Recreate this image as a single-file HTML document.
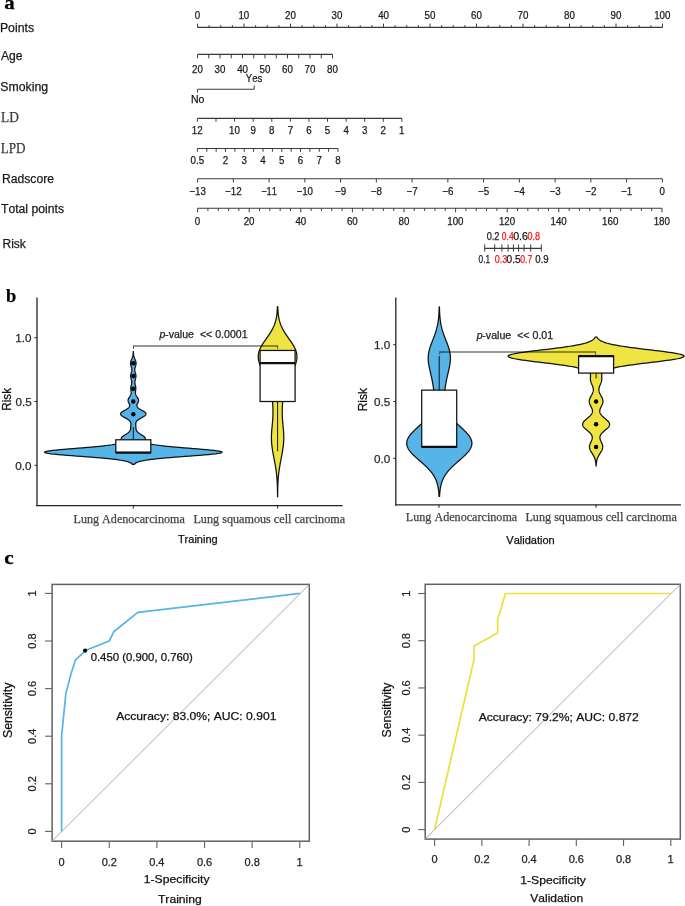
<!DOCTYPE html>
<html><head><meta charset="utf-8"><style>
html,body{margin:0;padding:0;background:#fff;}
svg{display:block;will-change:transform;}
text{font-kerning:none;}
</style></head><body>
<svg width="685" height="906" viewBox="0 0 685 906">
<rect width="685" height="906" fill="#fff"/>
<text x="4.27" y="9.30" font-family="Liberation Serif" font-size="19.50" fill="#000" stroke="#000" stroke-width="0.25" font-weight="bold" textLength="10.44" lengthAdjust="spacingAndGlyphs" xml:space="preserve">a</text>
<text x="-0.08" y="31.80" font-family="Liberation Sans" font-size="12.00" fill="#1a1a1a" stroke="#1a1a1a" stroke-width="0.25" textLength="34.10" lengthAdjust="spacingAndGlyphs" xml:space="preserve">Points</text>
<text x="0.90" y="60.10" font-family="Liberation Sans" font-size="12.00" fill="#1a1a1a" stroke="#1a1a1a" stroke-width="0.25" textLength="21.64" lengthAdjust="spacingAndGlyphs" xml:space="preserve">Age</text>
<text x="0.35" y="90.80" font-family="Liberation Sans" font-size="12.00" fill="#1a1a1a" stroke="#1a1a1a" stroke-width="0.25" textLength="47.76" lengthAdjust="spacingAndGlyphs" xml:space="preserve">Smoking</text>
<text x="1.00" y="121.60" font-family="Liberation Serif" font-size="14.20" fill="#3c3c3c" stroke="#3c3c3c" stroke-width="0.25" textLength="17.81" lengthAdjust="spacingAndGlyphs" xml:space="preserve">LD</text>
<text x="0.81" y="153.20" font-family="Liberation Serif" font-size="14.20" fill="#3c3c3c" stroke="#3c3c3c" stroke-width="0.25" textLength="24.81" lengthAdjust="spacingAndGlyphs" xml:space="preserve">LPD</text>
<text x="1.93" y="183.40" font-family="Liberation Sans" font-size="12.00" fill="#1a1a1a" stroke="#1a1a1a" stroke-width="0.25" textLength="52.12" lengthAdjust="spacingAndGlyphs" xml:space="preserve">Radscore</text>
<text x="0.95" y="213.10" font-family="Liberation Sans" font-size="12.00" fill="#1a1a1a" stroke="#1a1a1a" stroke-width="0.25" textLength="63.07" lengthAdjust="spacingAndGlyphs" xml:space="preserve">Total points</text>
<text x="2.54" y="248.20" font-family="Liberation Sans" font-size="12.00" fill="#1a1a1a" stroke="#1a1a1a" stroke-width="0.25" textLength="23.35" lengthAdjust="spacingAndGlyphs" xml:space="preserve">Risk</text>
<line x1="197.50" y1="27.40" x2="662.50" y2="27.40" stroke="#3a3a3a" stroke-width="1.1"/>
<line x1="197.50" y1="27.40" x2="197.50" y2="23.60" stroke="#3a3a3a" stroke-width="1.0"/>
<text x="194.77" y="18.90" font-family="Liberation Sans" font-size="10.60" fill="#1a1a1a" stroke="#1a1a1a" stroke-width="0.25" textLength="5.42" lengthAdjust="spacingAndGlyphs" xml:space="preserve">0</text>
<line x1="209.12" y1="27.40" x2="209.12" y2="25.20" stroke="#3a3a3a" stroke-width="1.0"/>
<line x1="220.75" y1="27.40" x2="220.75" y2="25.20" stroke="#3a3a3a" stroke-width="1.0"/>
<line x1="232.38" y1="27.40" x2="232.38" y2="25.20" stroke="#3a3a3a" stroke-width="1.0"/>
<line x1="244.00" y1="27.40" x2="244.00" y2="23.60" stroke="#3a3a3a" stroke-width="1.0"/>
<text x="238.39" y="18.90" font-family="Liberation Sans" font-size="10.60" fill="#1a1a1a" stroke="#1a1a1a" stroke-width="0.25" textLength="10.85" lengthAdjust="spacingAndGlyphs" xml:space="preserve">10</text>
<line x1="255.62" y1="27.40" x2="255.62" y2="25.20" stroke="#3a3a3a" stroke-width="1.0"/>
<line x1="267.25" y1="27.40" x2="267.25" y2="25.20" stroke="#3a3a3a" stroke-width="1.0"/>
<line x1="278.88" y1="27.40" x2="278.88" y2="25.20" stroke="#3a3a3a" stroke-width="1.0"/>
<line x1="290.50" y1="27.40" x2="290.50" y2="23.60" stroke="#3a3a3a" stroke-width="1.0"/>
<text x="285.01" y="18.90" font-family="Liberation Sans" font-size="10.60" fill="#1a1a1a" stroke="#1a1a1a" stroke-width="0.25" textLength="10.85" lengthAdjust="spacingAndGlyphs" xml:space="preserve">20</text>
<line x1="302.12" y1="27.40" x2="302.12" y2="25.20" stroke="#3a3a3a" stroke-width="1.0"/>
<line x1="313.75" y1="27.40" x2="313.75" y2="25.20" stroke="#3a3a3a" stroke-width="1.0"/>
<line x1="325.38" y1="27.40" x2="325.38" y2="25.20" stroke="#3a3a3a" stroke-width="1.0"/>
<line x1="337.00" y1="27.40" x2="337.00" y2="23.60" stroke="#3a3a3a" stroke-width="1.0"/>
<text x="331.56" y="18.90" font-family="Liberation Sans" font-size="10.60" fill="#1a1a1a" stroke="#1a1a1a" stroke-width="0.25" textLength="10.85" lengthAdjust="spacingAndGlyphs" xml:space="preserve">30</text>
<line x1="348.62" y1="27.40" x2="348.62" y2="25.20" stroke="#3a3a3a" stroke-width="1.0"/>
<line x1="360.25" y1="27.40" x2="360.25" y2="25.20" stroke="#3a3a3a" stroke-width="1.0"/>
<line x1="371.88" y1="27.40" x2="371.88" y2="25.20" stroke="#3a3a3a" stroke-width="1.0"/>
<line x1="383.50" y1="27.40" x2="383.50" y2="23.60" stroke="#3a3a3a" stroke-width="1.0"/>
<text x="378.16" y="18.90" font-family="Liberation Sans" font-size="10.60" fill="#1a1a1a" stroke="#1a1a1a" stroke-width="0.25" textLength="10.85" lengthAdjust="spacingAndGlyphs" xml:space="preserve">40</text>
<line x1="395.12" y1="27.40" x2="395.12" y2="25.20" stroke="#3a3a3a" stroke-width="1.0"/>
<line x1="406.75" y1="27.40" x2="406.75" y2="25.20" stroke="#3a3a3a" stroke-width="1.0"/>
<line x1="418.38" y1="27.40" x2="418.38" y2="25.20" stroke="#3a3a3a" stroke-width="1.0"/>
<line x1="430.00" y1="27.40" x2="430.00" y2="23.60" stroke="#3a3a3a" stroke-width="1.0"/>
<text x="424.56" y="18.90" font-family="Liberation Sans" font-size="10.60" fill="#1a1a1a" stroke="#1a1a1a" stroke-width="0.25" textLength="10.85" lengthAdjust="spacingAndGlyphs" xml:space="preserve">50</text>
<line x1="441.62" y1="27.40" x2="441.62" y2="25.20" stroke="#3a3a3a" stroke-width="1.0"/>
<line x1="453.25" y1="27.40" x2="453.25" y2="25.20" stroke="#3a3a3a" stroke-width="1.0"/>
<line x1="464.88" y1="27.40" x2="464.88" y2="25.20" stroke="#3a3a3a" stroke-width="1.0"/>
<line x1="476.50" y1="27.40" x2="476.50" y2="23.60" stroke="#3a3a3a" stroke-width="1.0"/>
<text x="471.01" y="18.90" font-family="Liberation Sans" font-size="10.60" fill="#1a1a1a" stroke="#1a1a1a" stroke-width="0.25" textLength="10.85" lengthAdjust="spacingAndGlyphs" xml:space="preserve">60</text>
<line x1="488.12" y1="27.40" x2="488.12" y2="25.20" stroke="#3a3a3a" stroke-width="1.0"/>
<line x1="499.75" y1="27.40" x2="499.75" y2="25.20" stroke="#3a3a3a" stroke-width="1.0"/>
<line x1="511.38" y1="27.40" x2="511.38" y2="25.20" stroke="#3a3a3a" stroke-width="1.0"/>
<line x1="523.00" y1="27.40" x2="523.00" y2="23.60" stroke="#3a3a3a" stroke-width="1.0"/>
<text x="517.51" y="18.90" font-family="Liberation Sans" font-size="10.60" fill="#1a1a1a" stroke="#1a1a1a" stroke-width="0.25" textLength="10.85" lengthAdjust="spacingAndGlyphs" xml:space="preserve">70</text>
<line x1="534.62" y1="27.40" x2="534.62" y2="25.20" stroke="#3a3a3a" stroke-width="1.0"/>
<line x1="546.25" y1="27.40" x2="546.25" y2="25.20" stroke="#3a3a3a" stroke-width="1.0"/>
<line x1="557.88" y1="27.40" x2="557.88" y2="25.20" stroke="#3a3a3a" stroke-width="1.0"/>
<line x1="569.50" y1="27.40" x2="569.50" y2="23.60" stroke="#3a3a3a" stroke-width="1.0"/>
<text x="564.04" y="18.90" font-family="Liberation Sans" font-size="10.60" fill="#1a1a1a" stroke="#1a1a1a" stroke-width="0.25" textLength="10.85" lengthAdjust="spacingAndGlyphs" xml:space="preserve">80</text>
<line x1="581.12" y1="27.40" x2="581.12" y2="25.20" stroke="#3a3a3a" stroke-width="1.0"/>
<line x1="592.75" y1="27.40" x2="592.75" y2="25.20" stroke="#3a3a3a" stroke-width="1.0"/>
<line x1="604.38" y1="27.40" x2="604.38" y2="25.20" stroke="#3a3a3a" stroke-width="1.0"/>
<line x1="616.00" y1="27.40" x2="616.00" y2="23.60" stroke="#3a3a3a" stroke-width="1.0"/>
<text x="610.54" y="18.90" font-family="Liberation Sans" font-size="10.60" fill="#1a1a1a" stroke="#1a1a1a" stroke-width="0.25" textLength="10.85" lengthAdjust="spacingAndGlyphs" xml:space="preserve">90</text>
<line x1="627.62" y1="27.40" x2="627.62" y2="25.20" stroke="#3a3a3a" stroke-width="1.0"/>
<line x1="639.25" y1="27.40" x2="639.25" y2="25.20" stroke="#3a3a3a" stroke-width="1.0"/>
<line x1="650.88" y1="27.40" x2="650.88" y2="25.20" stroke="#3a3a3a" stroke-width="1.0"/>
<line x1="662.50" y1="27.40" x2="662.50" y2="23.60" stroke="#3a3a3a" stroke-width="1.0"/>
<text x="654.19" y="18.90" font-family="Liberation Sans" font-size="10.60" fill="#1a1a1a" stroke="#1a1a1a" stroke-width="0.25" textLength="16.27" lengthAdjust="spacingAndGlyphs" xml:space="preserve">100</text>
<line x1="197.50" y1="54.40" x2="332.50" y2="54.40" stroke="#3a3a3a" stroke-width="1.1"/>
<line x1="197.50" y1="54.40" x2="197.50" y2="58.40" stroke="#3a3a3a" stroke-width="1.0"/>
<text x="192.01" y="72.80" font-family="Liberation Sans" font-size="10.60" fill="#1a1a1a" stroke="#1a1a1a" stroke-width="0.25" textLength="10.85" lengthAdjust="spacingAndGlyphs" xml:space="preserve">20</text>
<line x1="208.75" y1="54.40" x2="208.75" y2="58.40" stroke="#3a3a3a" stroke-width="1.0"/>
<line x1="220.00" y1="54.40" x2="220.00" y2="58.40" stroke="#3a3a3a" stroke-width="1.0"/>
<text x="214.56" y="72.80" font-family="Liberation Sans" font-size="10.60" fill="#1a1a1a" stroke="#1a1a1a" stroke-width="0.25" textLength="10.85" lengthAdjust="spacingAndGlyphs" xml:space="preserve">30</text>
<line x1="231.25" y1="54.40" x2="231.25" y2="58.40" stroke="#3a3a3a" stroke-width="1.0"/>
<line x1="242.50" y1="54.40" x2="242.50" y2="58.40" stroke="#3a3a3a" stroke-width="1.0"/>
<text x="237.16" y="72.80" font-family="Liberation Sans" font-size="10.60" fill="#1a1a1a" stroke="#1a1a1a" stroke-width="0.25" textLength="10.85" lengthAdjust="spacingAndGlyphs" xml:space="preserve">40</text>
<line x1="253.75" y1="54.40" x2="253.75" y2="58.40" stroke="#3a3a3a" stroke-width="1.0"/>
<line x1="265.00" y1="54.40" x2="265.00" y2="58.40" stroke="#3a3a3a" stroke-width="1.0"/>
<text x="259.56" y="72.80" font-family="Liberation Sans" font-size="10.60" fill="#1a1a1a" stroke="#1a1a1a" stroke-width="0.25" textLength="10.85" lengthAdjust="spacingAndGlyphs" xml:space="preserve">50</text>
<line x1="276.25" y1="54.40" x2="276.25" y2="58.40" stroke="#3a3a3a" stroke-width="1.0"/>
<line x1="287.50" y1="54.40" x2="287.50" y2="58.40" stroke="#3a3a3a" stroke-width="1.0"/>
<text x="282.01" y="72.80" font-family="Liberation Sans" font-size="10.60" fill="#1a1a1a" stroke="#1a1a1a" stroke-width="0.25" textLength="10.85" lengthAdjust="spacingAndGlyphs" xml:space="preserve">60</text>
<line x1="298.75" y1="54.40" x2="298.75" y2="58.40" stroke="#3a3a3a" stroke-width="1.0"/>
<line x1="310.00" y1="54.40" x2="310.00" y2="58.40" stroke="#3a3a3a" stroke-width="1.0"/>
<text x="304.51" y="72.80" font-family="Liberation Sans" font-size="10.60" fill="#1a1a1a" stroke="#1a1a1a" stroke-width="0.25" textLength="10.85" lengthAdjust="spacingAndGlyphs" xml:space="preserve">70</text>
<line x1="321.25" y1="54.40" x2="321.25" y2="58.40" stroke="#3a3a3a" stroke-width="1.0"/>
<line x1="332.50" y1="54.40" x2="332.50" y2="58.40" stroke="#3a3a3a" stroke-width="1.0"/>
<text x="327.04" y="72.80" font-family="Liberation Sans" font-size="10.60" fill="#1a1a1a" stroke="#1a1a1a" stroke-width="0.25" textLength="10.85" lengthAdjust="spacingAndGlyphs" xml:space="preserve">80</text>
<line x1="197.50" y1="89.30" x2="254.20" y2="89.30" stroke="#3a3a3a" stroke-width="1.1"/>
<line x1="197.50" y1="89.30" x2="197.50" y2="92.50" stroke="#3a3a3a" stroke-width="1.0"/>
<line x1="254.20" y1="89.30" x2="254.20" y2="85.40" stroke="#3a3a3a" stroke-width="1.0"/>
<text x="245.85" y="81.80" font-family="Liberation Sans" font-size="10.60" fill="#1a1a1a" stroke="#1a1a1a" stroke-width="0.25" textLength="16.42" lengthAdjust="spacingAndGlyphs" xml:space="preserve">Yes</text>
<text x="190.95" y="102.80" font-family="Liberation Sans" font-size="10.60" fill="#1a1a1a" stroke="#1a1a1a" stroke-width="0.25" textLength="13.50" lengthAdjust="spacingAndGlyphs" xml:space="preserve">No</text>
<line x1="197.40" y1="118.40" x2="401.90" y2="118.40" stroke="#3a3a3a" stroke-width="1.1"/>
<line x1="197.40" y1="118.40" x2="197.40" y2="121.70" stroke="#3a3a3a" stroke-width="1.0"/>
<text x="191.87" y="133.90" font-family="Liberation Sans" font-size="10.60" fill="#1a1a1a" stroke="#1a1a1a" stroke-width="0.25" textLength="10.85" lengthAdjust="spacingAndGlyphs" xml:space="preserve">12</text>
<line x1="215.99" y1="118.40" x2="215.99" y2="121.70" stroke="#3a3a3a" stroke-width="1.0"/>
<line x1="234.58" y1="118.40" x2="234.58" y2="121.70" stroke="#3a3a3a" stroke-width="1.0"/>
<text x="228.97" y="133.90" font-family="Liberation Sans" font-size="10.60" fill="#1a1a1a" stroke="#1a1a1a" stroke-width="0.25" textLength="10.85" lengthAdjust="spacingAndGlyphs" xml:space="preserve">10</text>
<line x1="253.17" y1="118.40" x2="253.17" y2="121.70" stroke="#3a3a3a" stroke-width="1.0"/>
<text x="250.46" y="133.90" font-family="Liberation Sans" font-size="10.60" fill="#1a1a1a" stroke="#1a1a1a" stroke-width="0.25" textLength="5.42" lengthAdjust="spacingAndGlyphs" xml:space="preserve">9</text>
<line x1="271.76" y1="118.40" x2="271.76" y2="121.70" stroke="#3a3a3a" stroke-width="1.0"/>
<text x="269.03" y="133.90" font-family="Liberation Sans" font-size="10.60" fill="#1a1a1a" stroke="#1a1a1a" stroke-width="0.25" textLength="5.42" lengthAdjust="spacingAndGlyphs" xml:space="preserve">8</text>
<line x1="290.35" y1="118.40" x2="290.35" y2="121.70" stroke="#3a3a3a" stroke-width="1.0"/>
<text x="287.64" y="133.90" font-family="Liberation Sans" font-size="10.60" fill="#1a1a1a" stroke="#1a1a1a" stroke-width="0.25" textLength="5.42" lengthAdjust="spacingAndGlyphs" xml:space="preserve">7</text>
<line x1="308.94" y1="118.40" x2="308.94" y2="121.70" stroke="#3a3a3a" stroke-width="1.0"/>
<text x="306.19" y="133.90" font-family="Liberation Sans" font-size="10.60" fill="#1a1a1a" stroke="#1a1a1a" stroke-width="0.25" textLength="5.42" lengthAdjust="spacingAndGlyphs" xml:space="preserve">6</text>
<line x1="327.53" y1="118.40" x2="327.53" y2="121.70" stroke="#3a3a3a" stroke-width="1.0"/>
<text x="324.82" y="133.90" font-family="Liberation Sans" font-size="10.60" fill="#1a1a1a" stroke="#1a1a1a" stroke-width="0.25" textLength="5.42" lengthAdjust="spacingAndGlyphs" xml:space="preserve">5</text>
<line x1="346.12" y1="118.40" x2="346.12" y2="121.70" stroke="#3a3a3a" stroke-width="1.0"/>
<text x="343.46" y="133.90" font-family="Liberation Sans" font-size="10.60" fill="#1a1a1a" stroke="#1a1a1a" stroke-width="0.25" textLength="5.42" lengthAdjust="spacingAndGlyphs" xml:space="preserve">4</text>
<line x1="364.71" y1="118.40" x2="364.71" y2="121.70" stroke="#3a3a3a" stroke-width="1.0"/>
<text x="362.00" y="133.90" font-family="Liberation Sans" font-size="10.60" fill="#1a1a1a" stroke="#1a1a1a" stroke-width="0.25" textLength="5.42" lengthAdjust="spacingAndGlyphs" xml:space="preserve">3</text>
<line x1="383.30" y1="118.40" x2="383.30" y2="121.70" stroke="#3a3a3a" stroke-width="1.0"/>
<text x="380.59" y="133.90" font-family="Liberation Sans" font-size="10.60" fill="#1a1a1a" stroke="#1a1a1a" stroke-width="0.25" textLength="5.42" lengthAdjust="spacingAndGlyphs" xml:space="preserve">2</text>
<line x1="401.89" y1="118.40" x2="401.89" y2="121.70" stroke="#3a3a3a" stroke-width="1.0"/>
<text x="399.04" y="133.90" font-family="Liberation Sans" font-size="10.60" fill="#1a1a1a" stroke="#1a1a1a" stroke-width="0.25" textLength="5.42" lengthAdjust="spacingAndGlyphs" xml:space="preserve">1</text>
<line x1="197.40" y1="148.50" x2="338.00" y2="148.50" stroke="#3a3a3a" stroke-width="1.1"/>
<line x1="197.40" y1="148.50" x2="197.40" y2="151.80" stroke="#3a3a3a" stroke-width="1.0"/>
<text x="190.62" y="163.70" font-family="Liberation Sans" font-size="10.60" fill="#1a1a1a" stroke="#1a1a1a" stroke-width="0.25" textLength="13.56" lengthAdjust="spacingAndGlyphs" xml:space="preserve">0.5</text>
<line x1="206.77" y1="148.50" x2="206.77" y2="151.80" stroke="#3a3a3a" stroke-width="1.0"/>
<line x1="216.15" y1="148.50" x2="216.15" y2="151.80" stroke="#3a3a3a" stroke-width="1.0"/>
<line x1="225.52" y1="148.50" x2="225.52" y2="151.80" stroke="#3a3a3a" stroke-width="1.0"/>
<text x="222.81" y="163.70" font-family="Liberation Sans" font-size="10.60" fill="#1a1a1a" stroke="#1a1a1a" stroke-width="0.25" textLength="5.42" lengthAdjust="spacingAndGlyphs" xml:space="preserve">2</text>
<line x1="234.89" y1="148.50" x2="234.89" y2="151.80" stroke="#3a3a3a" stroke-width="1.0"/>
<line x1="244.26" y1="148.50" x2="244.26" y2="151.80" stroke="#3a3a3a" stroke-width="1.0"/>
<text x="241.56" y="163.70" font-family="Liberation Sans" font-size="10.60" fill="#1a1a1a" stroke="#1a1a1a" stroke-width="0.25" textLength="5.42" lengthAdjust="spacingAndGlyphs" xml:space="preserve">3</text>
<line x1="253.64" y1="148.50" x2="253.64" y2="151.80" stroke="#3a3a3a" stroke-width="1.0"/>
<line x1="263.01" y1="148.50" x2="263.01" y2="151.80" stroke="#3a3a3a" stroke-width="1.0"/>
<text x="260.35" y="163.70" font-family="Liberation Sans" font-size="10.60" fill="#1a1a1a" stroke="#1a1a1a" stroke-width="0.25" textLength="5.42" lengthAdjust="spacingAndGlyphs" xml:space="preserve">4</text>
<line x1="272.38" y1="148.50" x2="272.38" y2="151.80" stroke="#3a3a3a" stroke-width="1.0"/>
<line x1="281.76" y1="148.50" x2="281.76" y2="151.80" stroke="#3a3a3a" stroke-width="1.0"/>
<text x="279.05" y="163.70" font-family="Liberation Sans" font-size="10.60" fill="#1a1a1a" stroke="#1a1a1a" stroke-width="0.25" textLength="5.42" lengthAdjust="spacingAndGlyphs" xml:space="preserve">5</text>
<line x1="291.13" y1="148.50" x2="291.13" y2="151.80" stroke="#3a3a3a" stroke-width="1.0"/>
<line x1="300.50" y1="148.50" x2="300.50" y2="151.80" stroke="#3a3a3a" stroke-width="1.0"/>
<text x="297.75" y="163.70" font-family="Liberation Sans" font-size="10.60" fill="#1a1a1a" stroke="#1a1a1a" stroke-width="0.25" textLength="5.42" lengthAdjust="spacingAndGlyphs" xml:space="preserve">6</text>
<line x1="309.88" y1="148.50" x2="309.88" y2="151.80" stroke="#3a3a3a" stroke-width="1.0"/>
<line x1="319.25" y1="148.50" x2="319.25" y2="151.80" stroke="#3a3a3a" stroke-width="1.0"/>
<text x="316.54" y="163.70" font-family="Liberation Sans" font-size="10.60" fill="#1a1a1a" stroke="#1a1a1a" stroke-width="0.25" textLength="5.42" lengthAdjust="spacingAndGlyphs" xml:space="preserve">7</text>
<line x1="328.62" y1="148.50" x2="328.62" y2="151.80" stroke="#3a3a3a" stroke-width="1.0"/>
<line x1="338.00" y1="148.50" x2="338.00" y2="151.80" stroke="#3a3a3a" stroke-width="1.0"/>
<text x="335.26" y="163.70" font-family="Liberation Sans" font-size="10.60" fill="#1a1a1a" stroke="#1a1a1a" stroke-width="0.25" textLength="5.42" lengthAdjust="spacingAndGlyphs" xml:space="preserve">8</text>
<line x1="197.60" y1="178.70" x2="662.40" y2="178.70" stroke="#3a3a3a" stroke-width="1.1"/>
<line x1="197.60" y1="178.70" x2="197.60" y2="182.50" stroke="#3a3a3a" stroke-width="1.0"/>
<text x="189.29" y="194.80" font-family="Liberation Sans" font-size="10.60" fill="#1a1a1a" stroke="#1a1a1a" stroke-width="0.25" textLength="16.54" lengthAdjust="spacingAndGlyphs" xml:space="preserve">−13</text>
<line x1="233.35" y1="178.70" x2="233.35" y2="182.50" stroke="#3a3a3a" stroke-width="1.0"/>
<text x="225.09" y="194.80" font-family="Liberation Sans" font-size="10.60" fill="#1a1a1a" stroke="#1a1a1a" stroke-width="0.25" textLength="16.54" lengthAdjust="spacingAndGlyphs" xml:space="preserve">−12</text>
<line x1="269.10" y1="178.70" x2="269.10" y2="182.50" stroke="#3a3a3a" stroke-width="1.0"/>
<text x="261.18" y="194.80" font-family="Liberation Sans" font-size="10.60" fill="#1a1a1a" stroke="#1a1a1a" stroke-width="0.25" textLength="15.82" lengthAdjust="spacingAndGlyphs" xml:space="preserve">−11</text>
<line x1="304.85" y1="178.70" x2="304.85" y2="182.50" stroke="#3a3a3a" stroke-width="1.0"/>
<text x="296.51" y="194.80" font-family="Liberation Sans" font-size="10.60" fill="#1a1a1a" stroke="#1a1a1a" stroke-width="0.25" textLength="16.54" lengthAdjust="spacingAndGlyphs" xml:space="preserve">−10</text>
<line x1="340.60" y1="178.70" x2="340.60" y2="182.50" stroke="#3a3a3a" stroke-width="1.0"/>
<text x="335.02" y="194.80" font-family="Liberation Sans" font-size="10.60" fill="#1a1a1a" stroke="#1a1a1a" stroke-width="0.25" textLength="11.12" lengthAdjust="spacingAndGlyphs" xml:space="preserve">−9</text>
<line x1="376.35" y1="178.70" x2="376.35" y2="182.50" stroke="#3a3a3a" stroke-width="1.0"/>
<text x="370.74" y="194.80" font-family="Liberation Sans" font-size="10.60" fill="#1a1a1a" stroke="#1a1a1a" stroke-width="0.25" textLength="11.12" lengthAdjust="spacingAndGlyphs" xml:space="preserve">−8</text>
<line x1="412.10" y1="178.70" x2="412.10" y2="182.50" stroke="#3a3a3a" stroke-width="1.0"/>
<text x="406.54" y="194.80" font-family="Liberation Sans" font-size="10.60" fill="#1a1a1a" stroke="#1a1a1a" stroke-width="0.25" textLength="11.12" lengthAdjust="spacingAndGlyphs" xml:space="preserve">−7</text>
<line x1="447.85" y1="178.70" x2="447.85" y2="182.50" stroke="#3a3a3a" stroke-width="1.0"/>
<text x="442.24" y="194.80" font-family="Liberation Sans" font-size="10.60" fill="#1a1a1a" stroke="#1a1a1a" stroke-width="0.25" textLength="11.12" lengthAdjust="spacingAndGlyphs" xml:space="preserve">−6</text>
<line x1="483.60" y1="178.70" x2="483.60" y2="182.50" stroke="#3a3a3a" stroke-width="1.0"/>
<text x="477.99" y="194.80" font-family="Liberation Sans" font-size="10.60" fill="#1a1a1a" stroke="#1a1a1a" stroke-width="0.25" textLength="11.12" lengthAdjust="spacingAndGlyphs" xml:space="preserve">−5</text>
<line x1="519.35" y1="178.70" x2="519.35" y2="182.50" stroke="#3a3a3a" stroke-width="1.0"/>
<text x="513.69" y="194.80" font-family="Liberation Sans" font-size="10.60" fill="#1a1a1a" stroke="#1a1a1a" stroke-width="0.25" textLength="11.12" lengthAdjust="spacingAndGlyphs" xml:space="preserve">−4</text>
<line x1="555.10" y1="178.70" x2="555.10" y2="182.50" stroke="#3a3a3a" stroke-width="1.0"/>
<text x="549.49" y="194.80" font-family="Liberation Sans" font-size="10.60" fill="#1a1a1a" stroke="#1a1a1a" stroke-width="0.25" textLength="11.12" lengthAdjust="spacingAndGlyphs" xml:space="preserve">−3</text>
<line x1="590.85" y1="178.70" x2="590.85" y2="182.50" stroke="#3a3a3a" stroke-width="1.0"/>
<text x="585.29" y="194.80" font-family="Liberation Sans" font-size="10.60" fill="#1a1a1a" stroke="#1a1a1a" stroke-width="0.25" textLength="11.12" lengthAdjust="spacingAndGlyphs" xml:space="preserve">−2</text>
<line x1="626.60" y1="178.70" x2="626.60" y2="182.50" stroke="#3a3a3a" stroke-width="1.0"/>
<text x="621.02" y="194.80" font-family="Liberation Sans" font-size="10.60" fill="#1a1a1a" stroke="#1a1a1a" stroke-width="0.25" textLength="11.12" lengthAdjust="spacingAndGlyphs" xml:space="preserve">−1</text>
<line x1="662.35" y1="178.70" x2="662.35" y2="182.50" stroke="#3a3a3a" stroke-width="1.0"/>
<text x="659.62" y="194.80" font-family="Liberation Sans" font-size="10.60" fill="#1a1a1a" stroke="#1a1a1a" stroke-width="0.25" textLength="5.42" lengthAdjust="spacingAndGlyphs" xml:space="preserve">0</text>
<line x1="197.60" y1="208.20" x2="662.00" y2="208.20" stroke="#3a3a3a" stroke-width="1.1"/>
<line x1="197.60" y1="208.20" x2="197.60" y2="212.30" stroke="#3a3a3a" stroke-width="1.0"/>
<text x="194.87" y="224.50" font-family="Liberation Sans" font-size="10.60" fill="#1a1a1a" stroke="#1a1a1a" stroke-width="0.25" textLength="5.42" lengthAdjust="spacingAndGlyphs" xml:space="preserve">0</text>
<line x1="207.92" y1="208.20" x2="207.92" y2="210.90" stroke="#3a3a3a" stroke-width="1.0"/>
<line x1="218.24" y1="208.20" x2="218.24" y2="210.90" stroke="#3a3a3a" stroke-width="1.0"/>
<line x1="228.56" y1="208.20" x2="228.56" y2="210.90" stroke="#3a3a3a" stroke-width="1.0"/>
<line x1="238.88" y1="208.20" x2="238.88" y2="210.90" stroke="#3a3a3a" stroke-width="1.0"/>
<line x1="249.20" y1="208.20" x2="249.20" y2="212.30" stroke="#3a3a3a" stroke-width="1.0"/>
<text x="243.71" y="224.50" font-family="Liberation Sans" font-size="10.60" fill="#1a1a1a" stroke="#1a1a1a" stroke-width="0.25" textLength="10.85" lengthAdjust="spacingAndGlyphs" xml:space="preserve">20</text>
<line x1="259.52" y1="208.20" x2="259.52" y2="210.90" stroke="#3a3a3a" stroke-width="1.0"/>
<line x1="269.84" y1="208.20" x2="269.84" y2="210.90" stroke="#3a3a3a" stroke-width="1.0"/>
<line x1="280.16" y1="208.20" x2="280.16" y2="210.90" stroke="#3a3a3a" stroke-width="1.0"/>
<line x1="290.48" y1="208.20" x2="290.48" y2="210.90" stroke="#3a3a3a" stroke-width="1.0"/>
<line x1="300.80" y1="208.20" x2="300.80" y2="212.30" stroke="#3a3a3a" stroke-width="1.0"/>
<text x="295.46" y="224.50" font-family="Liberation Sans" font-size="10.60" fill="#1a1a1a" stroke="#1a1a1a" stroke-width="0.25" textLength="10.85" lengthAdjust="spacingAndGlyphs" xml:space="preserve">40</text>
<line x1="311.12" y1="208.20" x2="311.12" y2="210.90" stroke="#3a3a3a" stroke-width="1.0"/>
<line x1="321.44" y1="208.20" x2="321.44" y2="210.90" stroke="#3a3a3a" stroke-width="1.0"/>
<line x1="331.76" y1="208.20" x2="331.76" y2="210.90" stroke="#3a3a3a" stroke-width="1.0"/>
<line x1="342.08" y1="208.20" x2="342.08" y2="210.90" stroke="#3a3a3a" stroke-width="1.0"/>
<line x1="352.40" y1="208.20" x2="352.40" y2="212.30" stroke="#3a3a3a" stroke-width="1.0"/>
<text x="346.91" y="224.50" font-family="Liberation Sans" font-size="10.60" fill="#1a1a1a" stroke="#1a1a1a" stroke-width="0.25" textLength="10.85" lengthAdjust="spacingAndGlyphs" xml:space="preserve">60</text>
<line x1="362.72" y1="208.20" x2="362.72" y2="210.90" stroke="#3a3a3a" stroke-width="1.0"/>
<line x1="373.04" y1="208.20" x2="373.04" y2="210.90" stroke="#3a3a3a" stroke-width="1.0"/>
<line x1="383.36" y1="208.20" x2="383.36" y2="210.90" stroke="#3a3a3a" stroke-width="1.0"/>
<line x1="393.68" y1="208.20" x2="393.68" y2="210.90" stroke="#3a3a3a" stroke-width="1.0"/>
<line x1="404.00" y1="208.20" x2="404.00" y2="212.30" stroke="#3a3a3a" stroke-width="1.0"/>
<text x="398.54" y="224.50" font-family="Liberation Sans" font-size="10.60" fill="#1a1a1a" stroke="#1a1a1a" stroke-width="0.25" textLength="10.85" lengthAdjust="spacingAndGlyphs" xml:space="preserve">80</text>
<line x1="414.32" y1="208.20" x2="414.32" y2="210.90" stroke="#3a3a3a" stroke-width="1.0"/>
<line x1="424.64" y1="208.20" x2="424.64" y2="210.90" stroke="#3a3a3a" stroke-width="1.0"/>
<line x1="434.96" y1="208.20" x2="434.96" y2="210.90" stroke="#3a3a3a" stroke-width="1.0"/>
<line x1="445.28" y1="208.20" x2="445.28" y2="210.90" stroke="#3a3a3a" stroke-width="1.0"/>
<line x1="455.60" y1="208.20" x2="455.60" y2="212.30" stroke="#3a3a3a" stroke-width="1.0"/>
<text x="447.29" y="224.50" font-family="Liberation Sans" font-size="10.60" fill="#1a1a1a" stroke="#1a1a1a" stroke-width="0.25" textLength="16.27" lengthAdjust="spacingAndGlyphs" xml:space="preserve">100</text>
<line x1="465.92" y1="208.20" x2="465.92" y2="210.90" stroke="#3a3a3a" stroke-width="1.0"/>
<line x1="476.24" y1="208.20" x2="476.24" y2="210.90" stroke="#3a3a3a" stroke-width="1.0"/>
<line x1="486.56" y1="208.20" x2="486.56" y2="210.90" stroke="#3a3a3a" stroke-width="1.0"/>
<line x1="496.88" y1="208.20" x2="496.88" y2="210.90" stroke="#3a3a3a" stroke-width="1.0"/>
<line x1="507.20" y1="208.20" x2="507.20" y2="212.30" stroke="#3a3a3a" stroke-width="1.0"/>
<text x="498.89" y="224.50" font-family="Liberation Sans" font-size="10.60" fill="#1a1a1a" stroke="#1a1a1a" stroke-width="0.25" textLength="16.27" lengthAdjust="spacingAndGlyphs" xml:space="preserve">120</text>
<line x1="517.52" y1="208.20" x2="517.52" y2="210.90" stroke="#3a3a3a" stroke-width="1.0"/>
<line x1="527.84" y1="208.20" x2="527.84" y2="210.90" stroke="#3a3a3a" stroke-width="1.0"/>
<line x1="538.16" y1="208.20" x2="538.16" y2="210.90" stroke="#3a3a3a" stroke-width="1.0"/>
<line x1="548.48" y1="208.20" x2="548.48" y2="210.90" stroke="#3a3a3a" stroke-width="1.0"/>
<line x1="558.80" y1="208.20" x2="558.80" y2="212.30" stroke="#3a3a3a" stroke-width="1.0"/>
<text x="550.49" y="224.50" font-family="Liberation Sans" font-size="10.60" fill="#1a1a1a" stroke="#1a1a1a" stroke-width="0.25" textLength="16.27" lengthAdjust="spacingAndGlyphs" xml:space="preserve">140</text>
<line x1="569.12" y1="208.20" x2="569.12" y2="210.90" stroke="#3a3a3a" stroke-width="1.0"/>
<line x1="579.44" y1="208.20" x2="579.44" y2="210.90" stroke="#3a3a3a" stroke-width="1.0"/>
<line x1="589.76" y1="208.20" x2="589.76" y2="210.90" stroke="#3a3a3a" stroke-width="1.0"/>
<line x1="600.08" y1="208.20" x2="600.08" y2="210.90" stroke="#3a3a3a" stroke-width="1.0"/>
<line x1="610.40" y1="208.20" x2="610.40" y2="212.30" stroke="#3a3a3a" stroke-width="1.0"/>
<text x="602.09" y="224.50" font-family="Liberation Sans" font-size="10.60" fill="#1a1a1a" stroke="#1a1a1a" stroke-width="0.25" textLength="16.27" lengthAdjust="spacingAndGlyphs" xml:space="preserve">160</text>
<line x1="620.72" y1="208.20" x2="620.72" y2="210.90" stroke="#3a3a3a" stroke-width="1.0"/>
<line x1="631.04" y1="208.20" x2="631.04" y2="210.90" stroke="#3a3a3a" stroke-width="1.0"/>
<line x1="641.36" y1="208.20" x2="641.36" y2="210.90" stroke="#3a3a3a" stroke-width="1.0"/>
<line x1="651.68" y1="208.20" x2="651.68" y2="210.90" stroke="#3a3a3a" stroke-width="1.0"/>
<line x1="662.00" y1="208.20" x2="662.00" y2="212.30" stroke="#3a3a3a" stroke-width="1.0"/>
<text x="653.69" y="224.50" font-family="Liberation Sans" font-size="10.60" fill="#1a1a1a" stroke="#1a1a1a" stroke-width="0.25" textLength="16.27" lengthAdjust="spacingAndGlyphs" xml:space="preserve">180</text>
<line x1="484.70" y1="248.40" x2="541.30" y2="248.40" stroke="#3a3a3a" stroke-width="1.1"/>
<line x1="484.70" y1="244.40" x2="484.70" y2="251.60" stroke="#3a3a3a" stroke-width="1.0"/>
<line x1="494.70" y1="244.40" x2="494.70" y2="251.60" stroke="#3a3a3a" stroke-width="1.0"/>
<line x1="501.90" y1="244.40" x2="501.90" y2="251.60" stroke="#3a3a3a" stroke-width="1.0"/>
<line x1="508.10" y1="244.40" x2="508.10" y2="251.60" stroke="#3a3a3a" stroke-width="1.0"/>
<line x1="513.40" y1="244.40" x2="513.40" y2="251.60" stroke="#3a3a3a" stroke-width="1.0"/>
<line x1="518.60" y1="244.40" x2="518.60" y2="251.60" stroke="#3a3a3a" stroke-width="1.0"/>
<line x1="524.10" y1="244.40" x2="524.10" y2="251.60" stroke="#3a3a3a" stroke-width="1.0"/>
<line x1="530.70" y1="244.40" x2="530.70" y2="251.60" stroke="#3a3a3a" stroke-width="1.0"/>
<line x1="541.30" y1="244.40" x2="541.30" y2="251.60" stroke="#3a3a3a" stroke-width="1.0"/>
<text x="486.63" y="239.50" font-family="Liberation Sans" font-size="10.60" fill="#1a1a1a" stroke="#1a1a1a" stroke-width="0.25" textLength="12.83" lengthAdjust="spacingAndGlyphs" xml:space="preserve">0.2</text>
<text x="501.86" y="239.50" font-family="Liberation Sans" font-size="10.60" fill="#fa1414" stroke="#fa1414" stroke-width="0.25" textLength="11.80" lengthAdjust="spacingAndGlyphs" xml:space="preserve">0.4</text>
<text x="513.17" y="239.50" font-family="Liberation Sans" font-size="10.60" fill="#1a1a1a" stroke="#1a1a1a" stroke-width="0.25" textLength="14.86" lengthAdjust="spacingAndGlyphs" xml:space="preserve">0.6</text>
<text x="527.44" y="239.50" font-family="Liberation Sans" font-size="10.60" fill="#fa1414" stroke="#fa1414" stroke-width="0.25" textLength="12.52" lengthAdjust="spacingAndGlyphs" xml:space="preserve">0.8</text>
<text x="478.57" y="263.10" font-family="Liberation Sans" font-size="10.60" fill="#1a1a1a" stroke="#1a1a1a" stroke-width="0.25" textLength="11.50" lengthAdjust="spacingAndGlyphs" xml:space="preserve">0.1</text>
<text x="494.64" y="263.10" font-family="Liberation Sans" font-size="10.60" fill="#fa1414" stroke="#fa1414" stroke-width="0.25" textLength="12.52" lengthAdjust="spacingAndGlyphs" xml:space="preserve">0.3</text>
<text x="506.59" y="263.10" font-family="Liberation Sans" font-size="10.60" fill="#1a1a1a" stroke="#1a1a1a" stroke-width="0.25" textLength="14.22" lengthAdjust="spacingAndGlyphs" xml:space="preserve">0.5</text>
<text x="520.26" y="263.10" font-family="Liberation Sans" font-size="10.60" fill="#fa1414" stroke="#fa1414" stroke-width="0.25" textLength="11.98" lengthAdjust="spacingAndGlyphs" xml:space="preserve">0.7</text>
<text x="535.32" y="263.10" font-family="Liberation Sans" font-size="10.60" fill="#1a1a1a" stroke="#1a1a1a" stroke-width="0.25" textLength="13.32" lengthAdjust="spacingAndGlyphs" xml:space="preserve">0.9</text>
<text x="5.92" y="302.40" font-family="Liberation Serif" font-size="19.50" fill="#000" stroke="#000" stroke-width="0.25" font-weight="bold" textLength="10.24" lengthAdjust="spacingAndGlyphs" xml:space="preserve">b</text>
<line x1="37.00" y1="297.50" x2="37.00" y2="506.30" stroke="#222" stroke-width="1.3"/>
<line x1="36.40" y1="505.70" x2="342.70" y2="505.70" stroke="#222" stroke-width="1.3"/>
<line x1="34.50" y1="337.70" x2="37.10" y2="337.70" stroke="#222" stroke-width="1.0"/>
<text x="15.35" y="341.90" font-family="Liberation Sans" font-size="11.70" fill="#2a2a2a" stroke="#2a2a2a" stroke-width="0.25" xml:space="preserve">1.0</text>
<line x1="34.50" y1="401.50" x2="37.10" y2="401.50" stroke="#222" stroke-width="1.0"/>
<text x="15.40" y="405.70" font-family="Liberation Sans" font-size="11.70" fill="#2a2a2a" stroke="#2a2a2a" stroke-width="0.25" xml:space="preserve">0.5</text>
<line x1="34.50" y1="465.30" x2="37.10" y2="465.30" stroke="#222" stroke-width="1.0"/>
<text x="15.35" y="469.50" font-family="Liberation Sans" font-size="11.70" fill="#2a2a2a" stroke="#2a2a2a" stroke-width="0.25" xml:space="preserve">0.0</text>
<text transform="translate(11.40,0) rotate(-90)" x="-410.74" y="0" font-family="Liberation Sans" font-size="12.00" fill="#111" stroke="#111" stroke-width="0.25" textLength="22.83" lengthAdjust="spacingAndGlyphs" xml:space="preserve">Risk</text>
<line x1="133.30" y1="505.70" x2="133.30" y2="508.60" stroke="#222" stroke-width="1.0"/>
<line x1="277.60" y1="505.70" x2="277.60" y2="508.60" stroke="#222" stroke-width="1.0"/>
<text x="73.53" y="522.70" font-family="Liberation Serif" font-size="12.20" fill="#444" stroke="#444" stroke-width="0.25" textLength="111.26" lengthAdjust="spacingAndGlyphs" xml:space="preserve">Lung Adenocarcinoma</text>
<text x="193.43" y="522.70" font-family="Liberation Serif" font-size="12.20" fill="#444" stroke="#444" stroke-width="0.25" textLength="151.72" lengthAdjust="spacingAndGlyphs" xml:space="preserve">Lung squamous cell carcinoma</text>
<text x="177.88" y="543.40" font-family="Liberation Sans" font-size="11.00" fill="#111" stroke="#111" stroke-width="0.25" textLength="39.75" lengthAdjust="spacingAndGlyphs" xml:space="preserve">Training</text>
<line x1="395.80" y1="297.60" x2="395.80" y2="505.40" stroke="#222" stroke-width="1.3"/>
<line x1="395.20" y1="504.80" x2="680.90" y2="504.80" stroke="#222" stroke-width="1.3"/>
<line x1="393.30" y1="344.70" x2="395.80" y2="344.70" stroke="#222" stroke-width="1.0"/>
<text x="374.05" y="348.90" font-family="Liberation Sans" font-size="11.70" fill="#2a2a2a" stroke="#2a2a2a" stroke-width="0.25" xml:space="preserve">1.0</text>
<line x1="393.30" y1="401.50" x2="395.80" y2="401.50" stroke="#222" stroke-width="1.0"/>
<text x="374.10" y="405.70" font-family="Liberation Sans" font-size="11.70" fill="#2a2a2a" stroke="#2a2a2a" stroke-width="0.25" xml:space="preserve">0.5</text>
<line x1="393.30" y1="458.30" x2="395.80" y2="458.30" stroke="#222" stroke-width="1.0"/>
<text x="374.05" y="462.50" font-family="Liberation Sans" font-size="11.70" fill="#2a2a2a" stroke="#2a2a2a" stroke-width="0.25" xml:space="preserve">0.0</text>
<text transform="translate(367.40,0) rotate(-90)" x="-411.36" y="0" font-family="Liberation Sans" font-size="12.00" fill="#111" stroke="#111" stroke-width="0.25" textLength="23.35" lengthAdjust="spacingAndGlyphs" xml:space="preserve">Risk</text>
<line x1="439.00" y1="504.80" x2="439.00" y2="507.80" stroke="#222" stroke-width="1.0"/>
<line x1="596.10" y1="504.80" x2="596.10" y2="507.80" stroke="#222" stroke-width="1.0"/>
<text x="405.83" y="521.00" font-family="Liberation Serif" font-size="12.20" fill="#444" stroke="#444" stroke-width="0.25" textLength="111.36" lengthAdjust="spacingAndGlyphs" xml:space="preserve">Lung Adenocarcinoma</text>
<text x="525.44" y="521.00" font-family="Liberation Serif" font-size="12.20" fill="#444" stroke="#444" stroke-width="0.25" textLength="151.52" lengthAdjust="spacingAndGlyphs" xml:space="preserve">Lung squamous cell carcinoma</text>
<text x="506.34" y="543.50" font-family="Liberation Sans" font-size="11.00" fill="#111" stroke="#111" stroke-width="0.25" textLength="48.42" lengthAdjust="spacingAndGlyphs" xml:space="preserve">Validation</text>
<path d="M134.21 464.41 L134.51 464.03 L134.89 463.65 L135.37 463.27 L135.98 462.89 L136.72 462.52 L137.64 462.14 L138.75 461.76 L140.09 461.38 L141.67 461.00 L143.54 460.63 L145.70 460.25 L148.19 459.87 L151.02 459.49 L154.20 459.11 L157.72 458.74 L161.58 458.36 L165.77 457.98 L170.23 457.60 L174.94 457.22 L179.83 456.84 L184.84 456.47 L189.88 456.09 L194.86 455.71 L199.69 455.33 L204.27 454.95 L208.51 454.58 L212.31 454.20 L215.58 453.82 L218.24 453.44 L220.24 453.06 L221.52 452.69 L222.06 452.31 L221.85 451.93 L220.90 451.55 L219.24 451.17 L216.92 450.79 L213.99 450.42 L210.55 450.04 L206.66 449.66 L202.43 449.28 L197.94 448.90 L193.30 448.53 L188.60 448.15 L183.92 447.77 L179.34 447.39 L174.93 447.01 L170.75 446.64 L166.85 446.26 L163.27 445.88 L160.02 445.50 L157.12 445.12 L154.59 444.75 L152.40 444.37 L150.56 443.99 L149.05 443.61 L147.84 443.23 L146.90 442.85 L146.20 442.48 L145.71 442.10 L145.40 441.72 L145.23 441.34 L145.17 440.96 L145.18 440.59 L145.24 440.21 L145.32 439.83 L145.38 439.45 L145.42 439.07 L145.41 438.70 L145.34 438.32 L145.20 437.94 L144.98 437.56 L144.70 437.18 L144.33 436.81 L143.91 436.43 L143.42 436.05 L142.89 435.67 L142.32 435.29 L141.72 434.91 L141.12 434.54 L140.51 434.16 L139.93 433.78 L139.36 433.40 L138.83 433.02 L138.34 432.65 L137.90 432.27 L137.51 431.89 L137.17 431.51 L136.88 431.13 L136.63 430.76 L136.44 430.38 L136.28 430.00 L136.17 429.62 L136.08 429.24 L136.01 428.86 L135.97 428.49 L135.94 428.11 L135.92 427.73 L135.90 427.35 L135.88 426.97 L135.86 426.60 L135.84 426.22 L135.81 425.84 L135.79 425.46 L135.76 425.08 L135.74 424.71 L135.72 424.33 L135.72 423.95 L135.74 423.57 L135.79 423.19 L135.86 422.82 L135.98 422.44 L136.13 422.06 L136.34 421.68 L136.60 421.30 L136.91 420.92 L137.28 420.55 L137.72 420.17 L138.20 419.79 L138.75 419.41 L139.34 419.03 L139.97 418.66 L140.63 418.28 L141.30 417.90 L141.99 417.52 L142.66 417.14 L143.31 416.77 L143.93 416.39 L144.48 416.01 L144.97 415.63 L145.37 415.25 L145.69 414.87 L145.90 414.50 L146.00 414.12 L145.99 413.74 L145.87 413.36 L145.65 412.98 L145.33 412.61 L144.91 412.23 L144.42 411.85 L143.86 411.47 L143.25 411.09 L142.60 410.72 L141.94 410.34 L141.27 409.96 L140.61 409.58 L139.99 409.20 L139.40 408.83 L138.85 408.45 L138.37 408.07 L137.95 407.69 L137.60 407.31 L137.32 406.93 L137.11 406.56 L136.97 406.18 L136.90 405.80 L136.89 405.42 L136.93 405.04 L137.01 404.67 L137.14 404.29 L137.30 403.91 L137.47 403.53 L137.66 403.15 L137.84 402.78 L138.02 402.40 L138.18 402.02 L138.31 401.64 L138.42 401.26 L138.49 400.89 L138.52 400.51 L138.51 400.13 L138.46 399.75 L138.37 399.37 L138.25 398.99 L138.09 398.62 L137.89 398.24 L137.68 397.86 L137.45 397.48 L137.21 397.10 L136.96 396.73 L136.72 396.35 L136.49 395.97 L136.27 395.59 L136.07 395.21 L135.89 394.84 L135.74 394.46 L135.62 394.08 L135.53 393.70 L135.47 393.32 L135.43 392.94 L135.42 392.57 L135.43 392.19 L135.45 391.81 L135.50 391.43 L135.55 391.05 L135.60 390.68 L135.66 390.30 L135.72 389.92 L135.77 389.54 L135.80 389.16 L135.83 388.79 L135.84 388.41 L135.83 388.03 L135.81 387.65 L135.77 387.27 L135.72 386.90 L135.65 386.52 L135.57 386.14 L135.48 385.76 L135.39 385.38 L135.29 385.00 L135.20 384.63 L135.12 384.25 L135.04 383.87 L134.97 383.49 L134.92 383.11 L134.88 382.74 L134.87 382.36 L134.87 381.98 L134.89 381.60 L134.93 381.22 L134.99 380.85 L135.06 380.47 L135.14 380.09 L135.24 379.71 L135.34 379.33 L135.45 378.95 L135.55 378.58 L135.65 378.20 L135.74 377.82 L135.82 377.44 L135.88 377.06 L135.92 376.69 L135.95 376.31 L135.95 375.93 L135.94 375.55 L135.90 375.17 L135.85 374.80 L135.78 374.42 L135.69 374.04 L135.59 373.66 L135.48 373.28 L135.37 372.91 L135.26 372.53 L135.15 372.15 L135.05 371.77 L134.96 371.39 L134.88 371.01 L134.82 370.64 L134.78 370.26 L134.76 369.88 L134.76 369.50 L134.78 369.12 L134.83 368.75 L134.89 368.37 L134.97 367.99 L135.06 367.61 L135.17 367.23 L135.28 366.86 L135.40 366.48 L135.52 366.10 L135.64 365.72 L135.75 365.34 L135.85 364.97 L135.93 364.59 L135.99 364.21 L136.04 363.83 L136.06 363.45 L136.06 363.07 L136.03 362.70 L135.98 362.32 L135.91 361.94 L135.82 361.56 L135.71 361.18 L135.58 360.81 L135.44 360.43 L135.29 360.05 L135.14 359.67 L134.98 359.29 L134.82 358.92 L134.66 358.54 L134.51 358.16 L134.37 357.78 L134.23 357.40 L134.11 357.02 L133.99 356.65 L133.89 356.27 L133.79 355.89 L133.71 355.51 L133.64 355.13 L133.58 354.76 L133.53 354.38 L133.48 354.00 L133.44 353.62 L133.41 353.24 L133.39 352.87 L133.37 352.49 L133.35 352.11 L133.34 351.73 L133.33 351.35 L133.27 351.35 L133.26 351.73 L133.25 352.11 L133.23 352.49 L133.21 352.87 L133.19 353.24 L133.16 353.62 L133.12 354.00 L133.07 354.38 L133.02 354.76 L132.96 355.13 L132.89 355.51 L132.81 355.89 L132.71 356.27 L132.61 356.65 L132.49 357.02 L132.37 357.40 L132.23 357.78 L132.09 358.16 L131.94 358.54 L131.78 358.92 L131.62 359.29 L131.46 359.67 L131.31 360.05 L131.16 360.43 L131.02 360.81 L130.89 361.18 L130.78 361.56 L130.69 361.94 L130.62 362.32 L130.57 362.70 L130.54 363.07 L130.54 363.45 L130.56 363.83 L130.61 364.21 L130.67 364.59 L130.75 364.97 L130.85 365.34 L130.96 365.72 L131.08 366.10 L131.20 366.48 L131.32 366.86 L131.43 367.23 L131.54 367.61 L131.63 367.99 L131.71 368.37 L131.77 368.75 L131.82 369.12 L131.84 369.50 L131.84 369.88 L131.82 370.26 L131.78 370.64 L131.72 371.01 L131.64 371.39 L131.55 371.77 L131.45 372.15 L131.34 372.53 L131.23 372.91 L131.12 373.28 L131.01 373.66 L130.91 374.04 L130.82 374.42 L130.75 374.80 L130.70 375.17 L130.66 375.55 L130.65 375.93 L130.65 376.31 L130.68 376.69 L130.72 377.06 L130.78 377.44 L130.86 377.82 L130.95 378.20 L131.05 378.58 L131.15 378.95 L131.26 379.33 L131.36 379.71 L131.46 380.09 L131.54 380.47 L131.61 380.85 L131.67 381.22 L131.71 381.60 L131.73 381.98 L131.73 382.36 L131.72 382.74 L131.68 383.11 L131.63 383.49 L131.56 383.87 L131.48 384.25 L131.40 384.63 L131.31 385.00 L131.21 385.38 L131.12 385.76 L131.03 386.14 L130.95 386.52 L130.88 386.90 L130.83 387.27 L130.79 387.65 L130.77 388.03 L130.76 388.41 L130.77 388.79 L130.80 389.16 L130.83 389.54 L130.88 389.92 L130.94 390.30 L131.00 390.68 L131.05 391.05 L131.10 391.43 L131.15 391.81 L131.17 392.19 L131.18 392.57 L131.17 392.94 L131.13 393.32 L131.07 393.70 L130.98 394.08 L130.86 394.46 L130.71 394.84 L130.53 395.21 L130.33 395.59 L130.11 395.97 L129.88 396.35 L129.64 396.73 L129.39 397.10 L129.15 397.48 L128.92 397.86 L128.71 398.24 L128.51 398.62 L128.35 398.99 L128.23 399.37 L128.14 399.75 L128.09 400.13 L128.08 400.51 L128.11 400.89 L128.18 401.26 L128.29 401.64 L128.42 402.02 L128.58 402.40 L128.76 402.78 L128.94 403.15 L129.13 403.53 L129.30 403.91 L129.46 404.29 L129.59 404.67 L129.67 405.04 L129.71 405.42 L129.70 405.80 L129.63 406.18 L129.49 406.56 L129.28 406.93 L129.00 407.31 L128.65 407.69 L128.23 408.07 L127.75 408.45 L127.20 408.83 L126.61 409.20 L125.99 409.58 L125.33 409.96 L124.66 410.34 L124.00 410.72 L123.35 411.09 L122.74 411.47 L122.18 411.85 L121.69 412.23 L121.27 412.61 L120.95 412.98 L120.73 413.36 L120.61 413.74 L120.60 414.12 L120.70 414.50 L120.91 414.87 L121.23 415.25 L121.63 415.63 L122.12 416.01 L122.67 416.39 L123.29 416.77 L123.94 417.14 L124.61 417.52 L125.30 417.90 L125.97 418.28 L126.63 418.66 L127.26 419.03 L127.85 419.41 L128.40 419.79 L128.88 420.17 L129.32 420.55 L129.69 420.92 L130.00 421.30 L130.26 421.68 L130.47 422.06 L130.62 422.44 L130.74 422.82 L130.81 423.19 L130.86 423.57 L130.88 423.95 L130.88 424.33 L130.86 424.71 L130.84 425.08 L130.81 425.46 L130.79 425.84 L130.76 426.22 L130.74 426.60 L130.72 426.97 L130.70 427.35 L130.68 427.73 L130.66 428.11 L130.63 428.49 L130.59 428.86 L130.52 429.24 L130.43 429.62 L130.32 430.00 L130.16 430.38 L129.97 430.76 L129.72 431.13 L129.43 431.51 L129.09 431.89 L128.70 432.27 L128.26 432.65 L127.77 433.02 L127.24 433.40 L126.67 433.78 L126.09 434.16 L125.48 434.54 L124.88 434.91 L124.28 435.29 L123.71 435.67 L123.18 436.05 L122.69 436.43 L122.27 436.81 L121.90 437.18 L121.62 437.56 L121.40 437.94 L121.26 438.32 L121.19 438.70 L121.18 439.07 L121.22 439.45 L121.28 439.83 L121.36 440.21 L121.42 440.59 L121.43 440.96 L121.37 441.34 L121.20 441.72 L120.89 442.10 L120.40 442.48 L119.70 442.85 L118.76 443.23 L117.55 443.61 L116.04 443.99 L114.20 444.37 L112.01 444.75 L109.48 445.12 L106.58 445.50 L103.33 445.88 L99.75 446.26 L95.85 446.64 L91.67 447.01 L87.26 447.39 L82.68 447.77 L78.00 448.15 L73.30 448.53 L68.66 448.90 L64.17 449.28 L59.94 449.66 L56.05 450.04 L52.61 450.42 L49.68 450.79 L47.36 451.17 L45.70 451.55 L44.75 451.93 L44.54 452.31 L45.08 452.69 L46.36 453.06 L48.36 453.44 L51.02 453.82 L54.29 454.20 L58.09 454.58 L62.33 454.95 L66.91 455.33 L71.74 455.71 L76.72 456.09 L81.76 456.47 L86.77 456.84 L91.66 457.22 L96.37 457.60 L100.83 457.98 L105.02 458.36 L108.88 458.74 L112.40 459.11 L115.58 459.49 L118.41 459.87 L120.90 460.25 L123.06 460.63 L124.93 461.00 L126.51 461.38 L127.85 461.76 L128.96 462.14 L129.88 462.52 L130.62 462.89 L131.23 463.27 L131.71 463.65 L132.09 464.03 L132.39 464.41 Z" fill="#56B4E9" stroke="#111" stroke-width="1.25" stroke-linejoin="round"/>
<path d="M277.63 496.82 L277.64 496.18 L277.64 495.54 L277.65 494.91 L277.65 494.27 L277.66 493.64 L277.67 493.00 L277.67 492.36 L277.68 491.73 L277.69 491.09 L277.70 490.45 L277.72 489.82 L277.73 489.18 L277.74 488.55 L277.76 487.91 L277.78 487.27 L277.80 486.64 L277.82 486.00 L277.84 485.36 L277.87 484.73 L277.89 484.09 L277.92 483.46 L277.95 482.82 L277.98 482.18 L278.02 481.55 L278.06 480.91 L278.10 480.27 L278.14 479.64 L278.19 479.00 L278.23 478.36 L278.29 477.73 L278.34 477.09 L278.40 476.46 L278.46 475.82 L278.52 475.18 L278.59 474.55 L278.66 473.91 L278.73 473.27 L278.81 472.64 L278.89 472.00 L278.97 471.37 L279.06 470.73 L279.15 470.09 L279.24 469.46 L279.34 468.82 L279.43 468.18 L279.53 467.55 L279.64 466.91 L279.74 466.28 L279.85 465.64 L279.96 465.00 L280.07 464.37 L280.19 463.73 L280.30 463.09 L280.42 462.46 L280.54 461.82 L280.66 461.18 L280.78 460.55 L280.90 459.91 L281.03 459.28 L281.15 458.64 L281.27 458.00 L281.39 457.37 L281.51 456.73 L281.63 456.09 L281.75 455.46 L281.87 454.82 L281.99 454.19 L282.11 453.55 L282.22 452.91 L282.33 452.28 L282.44 451.64 L282.54 451.00 L282.65 450.37 L282.75 449.73 L282.84 449.10 L282.94 448.46 L283.03 447.82 L283.11 447.19 L283.19 446.55 L283.27 445.91 L283.34 445.28 L283.40 444.64 L283.46 444.00 L283.52 443.37 L283.57 442.73 L283.62 442.10 L283.66 441.46 L283.69 440.82 L283.72 440.19 L283.74 439.55 L283.76 438.91 L283.77 438.28 L283.77 437.64 L283.77 437.01 L283.76 436.37 L283.75 435.73 L283.73 435.10 L283.71 434.46 L283.68 433.82 L283.65 433.19 L283.61 432.55 L283.57 431.92 L283.53 431.28 L283.48 430.64 L283.43 430.01 L283.37 429.37 L283.32 428.73 L283.26 428.10 L283.20 427.46 L283.14 426.82 L283.07 426.19 L283.01 425.55 L282.95 424.92 L282.89 424.28 L282.83 423.64 L282.77 423.01 L282.71 422.37 L282.65 421.73 L282.60 421.10 L282.55 420.46 L282.50 419.83 L282.46 419.19 L282.42 418.55 L282.38 417.92 L282.35 417.28 L282.32 416.64 L282.30 416.01 L282.28 415.37 L282.26 414.74 L282.25 414.10 L282.24 413.46 L282.23 412.83 L282.23 412.19 L282.24 411.55 L282.24 410.92 L282.25 410.28 L282.27 409.65 L282.28 409.01 L282.30 408.37 L282.33 407.74 L282.35 407.10 L282.38 406.46 L282.41 405.83 L282.45 405.19 L282.48 404.55 L282.52 403.92 L282.56 403.28 L282.60 402.65 L282.65 402.01 L282.70 401.37 L282.75 400.74 L282.80 400.10 L282.86 399.46 L282.92 398.83 L282.98 398.19 L283.05 397.56 L283.12 396.92 L283.20 396.28 L283.28 395.65 L283.37 395.01 L283.46 394.37 L283.56 393.74 L283.66 393.10 L283.78 392.47 L283.90 391.83 L284.02 391.19 L284.16 390.56 L284.30 389.92 L284.46 389.28 L284.62 388.65 L284.79 388.01 L284.97 387.37 L285.16 386.74 L285.36 386.10 L285.58 385.47 L285.80 384.83 L286.03 384.19 L286.27 383.56 L286.52 382.92 L286.78 382.28 L287.05 381.65 L287.33 381.01 L287.62 380.38 L287.91 379.74 L288.21 379.10 L288.52 378.47 L288.84 377.83 L289.16 377.19 L289.49 376.56 L289.82 375.92 L290.15 375.29 L290.49 374.65 L290.83 374.01 L291.17 373.38 L291.51 372.74 L291.84 372.10 L292.18 371.47 L292.51 370.83 L292.84 370.19 L293.16 369.56 L293.48 368.92 L293.79 368.29 L294.09 367.65 L294.38 367.01 L294.66 366.38 L294.93 365.74 L295.18 365.10 L295.43 364.47 L295.66 363.83 L295.87 363.20 L296.06 362.56 L296.24 361.92 L296.40 361.29 L296.55 360.65 L296.67 360.01 L296.77 359.38 L296.85 358.74 L296.91 358.11 L296.94 357.47 L296.96 356.83 L296.95 356.20 L296.92 355.56 L296.86 354.92 L296.78 354.29 L296.68 353.65 L296.56 353.01 L296.41 352.38 L296.23 351.74 L296.04 351.11 L295.82 350.47 L295.58 349.83 L295.32 349.20 L295.04 348.56 L294.75 347.92 L294.43 347.29 L294.09 346.65 L293.74 346.02 L293.37 345.38 L292.99 344.74 L292.60 344.11 L292.19 343.47 L291.78 342.83 L291.35 342.20 L290.92 341.56 L290.48 340.93 L290.04 340.29 L289.59 339.65 L289.14 339.02 L288.69 338.38 L288.24 337.74 L287.79 337.11 L287.35 336.47 L286.91 335.84 L286.47 335.20 L286.04 334.56 L285.62 333.93 L285.21 333.29 L284.80 332.65 L284.41 332.02 L284.03 331.38 L283.66 330.74 L283.30 330.11 L282.95 329.47 L282.61 328.84 L282.29 328.20 L281.98 327.56 L281.69 326.93 L281.40 326.29 L281.14 325.65 L280.88 325.02 L280.64 324.38 L280.41 323.75 L280.19 323.11 L279.99 322.47 L279.79 321.84 L279.61 321.20 L279.45 320.56 L279.29 319.93 L279.14 319.29 L279.01 318.66 L278.88 318.02 L278.76 317.38 L278.65 316.75 L278.55 316.11 L278.46 315.47 L278.38 314.84 L278.30 314.20 L278.23 313.56 L278.16 312.93 L278.10 312.29 L278.05 311.66 L278.00 311.02 L277.96 310.38 L277.92 309.75 L277.88 309.11 L277.85 308.47 L277.82 307.84 L277.79 307.20 L277.77 306.57 L277.43 306.57 L277.41 307.20 L277.38 307.84 L277.35 308.47 L277.32 309.11 L277.28 309.75 L277.24 310.38 L277.20 311.02 L277.15 311.66 L277.10 312.29 L277.04 312.93 L276.97 313.56 L276.90 314.20 L276.82 314.84 L276.74 315.47 L276.65 316.11 L276.55 316.75 L276.44 317.38 L276.32 318.02 L276.19 318.66 L276.06 319.29 L275.91 319.93 L275.75 320.56 L275.59 321.20 L275.41 321.84 L275.21 322.47 L275.01 323.11 L274.79 323.75 L274.56 324.38 L274.32 325.02 L274.06 325.65 L273.80 326.29 L273.51 326.93 L273.22 327.56 L272.91 328.20 L272.59 328.84 L272.25 329.47 L271.90 330.11 L271.54 330.74 L271.17 331.38 L270.79 332.02 L270.40 332.65 L269.99 333.29 L269.58 333.93 L269.16 334.56 L268.73 335.20 L268.29 335.84 L267.85 336.47 L267.41 337.11 L266.96 337.74 L266.51 338.38 L266.06 339.02 L265.61 339.65 L265.16 340.29 L264.72 340.93 L264.28 341.56 L263.85 342.20 L263.42 342.83 L263.01 343.47 L262.60 344.11 L262.21 344.74 L261.83 345.38 L261.46 346.02 L261.11 346.65 L260.77 347.29 L260.45 347.92 L260.16 348.56 L259.88 349.20 L259.62 349.83 L259.38 350.47 L259.16 351.11 L258.97 351.74 L258.79 352.38 L258.64 353.01 L258.52 353.65 L258.42 354.29 L258.34 354.92 L258.28 355.56 L258.25 356.20 L258.24 356.83 L258.26 357.47 L258.29 358.11 L258.35 358.74 L258.43 359.38 L258.53 360.01 L258.65 360.65 L258.80 361.29 L258.96 361.92 L259.14 362.56 L259.33 363.20 L259.54 363.83 L259.77 364.47 L260.02 365.10 L260.27 365.74 L260.54 366.38 L260.82 367.01 L261.11 367.65 L261.41 368.29 L261.72 368.92 L262.04 369.56 L262.36 370.19 L262.69 370.83 L263.02 371.47 L263.36 372.10 L263.69 372.74 L264.03 373.38 L264.37 374.01 L264.71 374.65 L265.05 375.29 L265.38 375.92 L265.71 376.56 L266.04 377.19 L266.36 377.83 L266.68 378.47 L266.99 379.10 L267.29 379.74 L267.58 380.38 L267.87 381.01 L268.15 381.65 L268.42 382.28 L268.68 382.92 L268.93 383.56 L269.17 384.19 L269.40 384.83 L269.62 385.47 L269.84 386.10 L270.04 386.74 L270.23 387.37 L270.41 388.01 L270.58 388.65 L270.74 389.28 L270.90 389.92 L271.04 390.56 L271.18 391.19 L271.30 391.83 L271.42 392.47 L271.54 393.10 L271.64 393.74 L271.74 394.37 L271.83 395.01 L271.92 395.65 L272.00 396.28 L272.08 396.92 L272.15 397.56 L272.22 398.19 L272.28 398.83 L272.34 399.46 L272.40 400.10 L272.45 400.74 L272.50 401.37 L272.55 402.01 L272.60 402.65 L272.64 403.28 L272.68 403.92 L272.72 404.55 L272.75 405.19 L272.79 405.83 L272.82 406.46 L272.85 407.10 L272.87 407.74 L272.90 408.37 L272.92 409.01 L272.93 409.65 L272.95 410.28 L272.96 410.92 L272.96 411.55 L272.97 412.19 L272.97 412.83 L272.96 413.46 L272.95 414.10 L272.94 414.74 L272.92 415.37 L272.90 416.01 L272.88 416.64 L272.85 417.28 L272.82 417.92 L272.78 418.55 L272.74 419.19 L272.70 419.83 L272.65 420.46 L272.60 421.10 L272.55 421.73 L272.49 422.37 L272.43 423.01 L272.37 423.64 L272.31 424.28 L272.25 424.92 L272.19 425.55 L272.13 426.19 L272.06 426.82 L272.00 427.46 L271.94 428.10 L271.88 428.73 L271.83 429.37 L271.77 430.01 L271.72 430.64 L271.67 431.28 L271.63 431.92 L271.59 432.55 L271.55 433.19 L271.52 433.82 L271.49 434.46 L271.47 435.10 L271.45 435.73 L271.44 436.37 L271.43 437.01 L271.43 437.64 L271.43 438.28 L271.44 438.91 L271.46 439.55 L271.48 440.19 L271.51 440.82 L271.54 441.46 L271.58 442.10 L271.63 442.73 L271.68 443.37 L271.74 444.00 L271.80 444.64 L271.86 445.28 L271.93 445.91 L272.01 446.55 L272.09 447.19 L272.17 447.82 L272.26 448.46 L272.36 449.10 L272.45 449.73 L272.55 450.37 L272.66 451.00 L272.76 451.64 L272.87 452.28 L272.98 452.91 L273.09 453.55 L273.21 454.19 L273.33 454.82 L273.45 455.46 L273.57 456.09 L273.69 456.73 L273.81 457.37 L273.93 458.00 L274.05 458.64 L274.17 459.28 L274.30 459.91 L274.42 460.55 L274.54 461.18 L274.66 461.82 L274.78 462.46 L274.90 463.09 L275.01 463.73 L275.13 464.37 L275.24 465.00 L275.35 465.64 L275.46 466.28 L275.56 466.91 L275.67 467.55 L275.77 468.18 L275.86 468.82 L275.96 469.46 L276.05 470.09 L276.14 470.73 L276.23 471.37 L276.31 472.00 L276.39 472.64 L276.47 473.27 L276.54 473.91 L276.61 474.55 L276.68 475.18 L276.74 475.82 L276.80 476.46 L276.86 477.09 L276.91 477.73 L276.97 478.36 L277.01 479.00 L277.06 479.64 L277.10 480.27 L277.14 480.91 L277.18 481.55 L277.22 482.18 L277.25 482.82 L277.28 483.46 L277.31 484.09 L277.33 484.73 L277.36 485.36 L277.38 486.00 L277.40 486.64 L277.42 487.27 L277.44 487.91 L277.46 488.55 L277.47 489.18 L277.48 489.82 L277.50 490.45 L277.51 491.09 L277.52 491.73 L277.53 492.36 L277.53 493.00 L277.54 493.64 L277.55 494.27 L277.55 494.91 L277.56 495.54 L277.56 496.18 L277.57 496.82 Z" fill="#F0E442" stroke="#111" stroke-width="1.25" stroke-linejoin="round"/>
<path d="M439.56 496.47 L439.59 495.84 L439.63 495.20 L439.67 494.57 L439.71 493.93 L439.76 493.30 L439.81 492.66 L439.87 492.03 L439.93 491.39 L440.00 490.76 L440.08 490.12 L440.16 489.49 L440.25 488.86 L440.35 488.22 L440.46 487.59 L440.58 486.95 L440.71 486.32 L440.84 485.68 L440.99 485.05 L441.15 484.41 L441.32 483.78 L441.51 483.15 L441.71 482.51 L441.92 481.88 L442.15 481.24 L442.39 480.61 L442.65 479.97 L442.92 479.34 L443.22 478.70 L443.53 478.07 L443.85 477.43 L444.20 476.80 L444.57 476.17 L444.95 475.53 L445.35 474.90 L445.78 474.26 L446.22 473.63 L446.68 472.99 L447.17 472.36 L447.67 471.72 L448.19 471.09 L448.74 470.46 L449.30 469.82 L449.88 469.19 L450.47 468.55 L451.09 467.92 L451.72 467.28 L452.37 466.65 L453.03 466.01 L453.70 465.38 L454.39 464.75 L455.09 464.11 L455.80 463.48 L456.51 462.84 L457.23 462.21 L457.96 461.57 L458.69 460.94 L459.42 460.30 L460.14 459.67 L460.87 459.03 L461.59 458.40 L462.30 457.77 L463.00 457.13 L463.69 456.50 L464.36 455.86 L465.02 455.23 L465.66 454.59 L466.28 453.96 L466.88 453.32 L467.45 452.69 L468.00 452.06 L468.51 451.42 L469.00 450.79 L469.45 450.15 L469.87 449.52 L470.25 448.88 L470.60 448.25 L470.91 447.61 L471.17 446.98 L471.40 446.35 L471.58 445.71 L471.73 445.08 L471.83 444.44 L471.88 443.81 L471.90 443.17 L471.87 442.54 L471.80 441.90 L471.68 441.27 L471.53 440.63 L471.33 440.00 L471.09 439.37 L470.82 438.73 L470.50 438.10 L470.15 437.46 L469.76 436.83 L469.34 436.19 L468.89 435.56 L468.40 434.92 L467.89 434.29 L467.35 433.66 L466.79 433.02 L466.20 432.39 L465.60 431.75 L464.98 431.12 L464.34 430.48 L463.68 429.85 L463.02 429.21 L462.35 428.58 L461.66 427.94 L460.98 427.31 L460.29 426.68 L459.60 426.04 L458.92 425.41 L458.23 424.77 L457.55 424.14 L456.88 423.50 L456.22 422.87 L455.57 422.23 L454.93 421.60 L454.30 420.97 L453.69 420.33 L453.09 419.70 L452.51 419.06 L451.95 418.43 L451.40 417.79 L450.88 417.16 L450.37 416.52 L449.89 415.89 L449.43 415.26 L448.99 414.62 L448.57 413.99 L448.17 413.35 L447.79 412.72 L447.44 412.08 L447.10 411.45 L446.79 410.81 L446.50 410.18 L446.23 409.54 L445.98 408.91 L445.75 408.28 L445.54 407.64 L445.35 407.01 L445.18 406.37 L445.02 405.74 L444.89 405.10 L444.76 404.47 L444.66 403.83 L444.57 403.20 L444.49 402.57 L444.42 401.93 L444.37 401.30 L444.33 400.66 L444.30 400.03 L444.29 399.39 L444.28 398.76 L444.28 398.12 L444.29 397.49 L444.31 396.85 L444.33 396.22 L444.37 395.59 L444.41 394.95 L444.45 394.32 L444.50 393.68 L444.56 393.05 L444.62 392.41 L444.68 391.78 L444.75 391.14 L444.83 390.51 L444.90 389.88 L444.98 389.24 L445.07 388.61 L445.15 387.97 L445.25 387.34 L445.34 386.70 L445.44 386.07 L445.54 385.43 L445.64 384.80 L445.75 384.17 L445.86 383.53 L445.97 382.90 L446.08 382.26 L446.20 381.63 L446.32 380.99 L446.45 380.36 L446.58 379.72 L446.71 379.09 L446.84 378.45 L446.98 377.82 L447.11 377.19 L447.25 376.55 L447.40 375.92 L447.54 375.28 L447.69 374.65 L447.83 374.01 L447.98 373.38 L448.13 372.74 L448.28 372.11 L448.43 371.48 L448.57 370.84 L448.72 370.21 L448.86 369.57 L449.00 368.94 L449.14 368.30 L449.27 367.67 L449.40 367.03 L449.53 366.40 L449.65 365.77 L449.76 365.13 L449.86 364.50 L449.96 363.86 L450.05 363.23 L450.13 362.59 L450.20 361.96 L450.26 361.32 L450.31 360.69 L450.35 360.05 L450.37 359.42 L450.39 358.79 L450.39 358.15 L450.38 357.52 L450.36 356.88 L450.32 356.25 L450.28 355.61 L450.22 354.98 L450.14 354.34 L450.05 353.71 L449.95 353.08 L449.84 352.44 L449.72 351.81 L449.58 351.17 L449.43 350.54 L449.28 349.90 L449.11 349.27 L448.93 348.63 L448.74 348.00 L448.54 347.36 L448.33 346.73 L448.12 346.10 L447.90 345.46 L447.67 344.83 L447.44 344.19 L447.20 343.56 L446.96 342.92 L446.72 342.29 L446.47 341.65 L446.22 341.02 L445.97 340.39 L445.73 339.75 L445.48 339.12 L445.23 338.48 L444.98 337.85 L444.74 337.21 L444.50 336.58 L444.26 335.94 L444.03 335.31 L443.80 334.68 L443.57 334.04 L443.36 333.41 L443.14 332.77 L442.93 332.14 L442.73 331.50 L442.54 330.87 L442.35 330.23 L442.17 329.60 L441.99 328.96 L441.83 328.33 L441.67 327.70 L441.51 327.06 L441.37 326.43 L441.23 325.79 L441.09 325.16 L440.97 324.52 L440.85 323.89 L440.73 323.25 L440.63 322.62 L440.53 321.99 L440.43 321.35 L440.34 320.72 L440.26 320.08 L440.18 319.45 L440.11 318.81 L440.04 318.18 L439.98 317.54 L439.92 316.91 L439.86 316.27 L439.81 315.64 L439.77 315.01 L439.72 314.37 L439.68 313.74 L439.65 313.10 L439.61 312.47 L439.58 311.83 L439.55 311.20 L439.53 310.56 L439.51 309.93 L439.48 309.30 L439.47 308.66 L439.45 308.03 L439.43 307.39 L439.42 306.76 L439.18 306.76 L439.17 307.39 L439.15 308.03 L439.13 308.66 L439.12 309.30 L439.09 309.93 L439.07 310.56 L439.05 311.20 L439.02 311.83 L438.99 312.47 L438.95 313.10 L438.92 313.74 L438.88 314.37 L438.83 315.01 L438.79 315.64 L438.74 316.27 L438.68 316.91 L438.62 317.54 L438.56 318.18 L438.49 318.81 L438.42 319.45 L438.34 320.08 L438.26 320.72 L438.17 321.35 L438.07 321.99 L437.97 322.62 L437.87 323.25 L437.75 323.89 L437.63 324.52 L437.51 325.16 L437.37 325.79 L437.23 326.43 L437.09 327.06 L436.93 327.70 L436.77 328.33 L436.61 328.96 L436.43 329.60 L436.25 330.23 L436.06 330.87 L435.87 331.50 L435.67 332.14 L435.46 332.77 L435.24 333.41 L435.03 334.04 L434.80 334.68 L434.57 335.31 L434.34 335.94 L434.10 336.58 L433.86 337.21 L433.62 337.85 L433.37 338.48 L433.12 339.12 L432.87 339.75 L432.63 340.39 L432.38 341.02 L432.13 341.65 L431.88 342.29 L431.64 342.92 L431.40 343.56 L431.16 344.19 L430.93 344.83 L430.70 345.46 L430.48 346.10 L430.27 346.73 L430.06 347.36 L429.86 348.00 L429.67 348.63 L429.49 349.27 L429.32 349.90 L429.17 350.54 L429.02 351.17 L428.88 351.81 L428.76 352.44 L428.65 353.08 L428.55 353.71 L428.46 354.34 L428.38 354.98 L428.32 355.61 L428.28 356.25 L428.24 356.88 L428.22 357.52 L428.21 358.15 L428.21 358.79 L428.23 359.42 L428.25 360.05 L428.29 360.69 L428.34 361.32 L428.40 361.96 L428.47 362.59 L428.55 363.23 L428.64 363.86 L428.74 364.50 L428.84 365.13 L428.95 365.77 L429.07 366.40 L429.20 367.03 L429.33 367.67 L429.46 368.30 L429.60 368.94 L429.74 369.57 L429.88 370.21 L430.03 370.84 L430.17 371.48 L430.32 372.11 L430.47 372.74 L430.62 373.38 L430.77 374.01 L430.91 374.65 L431.06 375.28 L431.20 375.92 L431.35 376.55 L431.49 377.19 L431.62 377.82 L431.76 378.45 L431.89 379.09 L432.02 379.72 L432.15 380.36 L432.28 380.99 L432.40 381.63 L432.52 382.26 L432.63 382.90 L432.74 383.53 L432.85 384.17 L432.96 384.80 L433.06 385.43 L433.16 386.07 L433.26 386.70 L433.35 387.34 L433.45 387.97 L433.53 388.61 L433.62 389.24 L433.70 389.88 L433.77 390.51 L433.85 391.14 L433.92 391.78 L433.98 392.41 L434.04 393.05 L434.10 393.68 L434.15 394.32 L434.19 394.95 L434.23 395.59 L434.27 396.22 L434.29 396.85 L434.31 397.49 L434.32 398.12 L434.32 398.76 L434.31 399.39 L434.30 400.03 L434.27 400.66 L434.23 401.30 L434.18 401.93 L434.11 402.57 L434.03 403.20 L433.94 403.83 L433.84 404.47 L433.71 405.10 L433.58 405.74 L433.42 406.37 L433.25 407.01 L433.06 407.64 L432.85 408.28 L432.62 408.91 L432.37 409.54 L432.10 410.18 L431.81 410.81 L431.50 411.45 L431.16 412.08 L430.81 412.72 L430.43 413.35 L430.03 413.99 L429.61 414.62 L429.17 415.26 L428.71 415.89 L428.23 416.52 L427.72 417.16 L427.20 417.79 L426.65 418.43 L426.09 419.06 L425.51 419.70 L424.91 420.33 L424.30 420.97 L423.67 421.60 L423.03 422.23 L422.38 422.87 L421.72 423.50 L421.05 424.14 L420.37 424.77 L419.68 425.41 L419.00 426.04 L418.31 426.68 L417.62 427.31 L416.94 427.94 L416.25 428.58 L415.58 429.21 L414.92 429.85 L414.26 430.48 L413.62 431.12 L413.00 431.75 L412.40 432.39 L411.81 433.02 L411.25 433.66 L410.71 434.29 L410.20 434.92 L409.71 435.56 L409.26 436.19 L408.84 436.83 L408.45 437.46 L408.10 438.10 L407.78 438.73 L407.51 439.37 L407.27 440.00 L407.07 440.63 L406.92 441.27 L406.80 441.90 L406.73 442.54 L406.70 443.17 L406.72 443.81 L406.77 444.44 L406.87 445.08 L407.02 445.71 L407.20 446.35 L407.43 446.98 L407.69 447.61 L408.00 448.25 L408.35 448.88 L408.73 449.52 L409.15 450.15 L409.60 450.79 L410.09 451.42 L410.60 452.06 L411.15 452.69 L411.72 453.32 L412.32 453.96 L412.94 454.59 L413.58 455.23 L414.24 455.86 L414.91 456.50 L415.60 457.13 L416.30 457.77 L417.01 458.40 L417.73 459.03 L418.46 459.67 L419.18 460.30 L419.91 460.94 L420.64 461.57 L421.37 462.21 L422.09 462.84 L422.80 463.48 L423.51 464.11 L424.21 464.75 L424.90 465.38 L425.57 466.01 L426.23 466.65 L426.88 467.28 L427.51 467.92 L428.13 468.55 L428.72 469.19 L429.30 469.82 L429.86 470.46 L430.41 471.09 L430.93 471.72 L431.43 472.36 L431.92 472.99 L432.38 473.63 L432.82 474.26 L433.25 474.90 L433.65 475.53 L434.03 476.17 L434.40 476.80 L434.75 477.43 L435.07 478.07 L435.38 478.70 L435.68 479.34 L435.95 479.97 L436.21 480.61 L436.45 481.24 L436.68 481.88 L436.89 482.51 L437.09 483.15 L437.28 483.78 L437.45 484.41 L437.61 485.05 L437.76 485.68 L437.89 486.32 L438.02 486.95 L438.14 487.59 L438.25 488.22 L438.35 488.86 L438.44 489.49 L438.52 490.12 L438.60 490.76 L438.67 491.39 L438.73 492.03 L438.79 492.66 L438.84 493.30 L438.89 493.93 L438.93 494.57 L438.97 495.20 L439.01 495.84 L439.04 496.47 Z" fill="#56B4E9" stroke="#111" stroke-width="1.25" stroke-linejoin="round"/>
<path d="M596.17 466.02 L596.19 465.59 L596.21 465.16 L596.23 464.73 L596.26 464.30 L596.29 463.87 L596.33 463.44 L596.37 463.01 L596.42 462.58 L596.48 462.15 L596.54 461.72 L596.62 461.29 L596.70 460.85 L596.80 460.42 L596.90 459.99 L597.02 459.56 L597.15 459.13 L597.30 458.70 L597.45 458.27 L597.62 457.84 L597.80 457.41 L598.00 456.98 L598.21 456.55 L598.43 456.12 L598.67 455.68 L598.91 455.25 L599.16 454.82 L599.42 454.39 L599.69 453.96 L599.96 453.53 L600.23 453.10 L600.50 452.67 L600.77 452.24 L601.03 451.81 L601.28 451.38 L601.52 450.95 L601.74 450.51 L601.95 450.08 L602.13 449.65 L602.30 449.22 L602.44 448.79 L602.55 448.36 L602.64 447.93 L602.69 447.50 L602.72 447.07 L602.72 446.64 L602.70 446.21 L602.64 445.78 L602.56 445.34 L602.45 444.91 L602.32 444.48 L602.17 444.05 L602.00 443.62 L601.82 443.19 L601.63 442.76 L601.43 442.33 L601.23 441.90 L601.03 441.47 L600.84 441.04 L600.65 440.60 L600.48 440.17 L600.32 439.74 L600.19 439.31 L600.08 438.88 L599.99 438.45 L599.94 438.02 L599.92 437.59 L599.94 437.16 L599.99 436.73 L600.08 436.30 L600.22 435.87 L600.39 435.43 L600.60 435.00 L600.86 434.57 L601.15 434.14 L601.49 433.71 L601.85 433.28 L602.25 432.85 L602.68 432.42 L603.14 431.99 L603.62 431.56 L604.11 431.13 L604.61 430.70 L605.12 430.26 L605.63 429.83 L606.14 429.40 L606.63 428.97 L607.10 428.54 L607.55 428.11 L607.96 427.68 L608.34 427.25 L608.67 426.82 L608.96 426.39 L609.20 425.96 L609.39 425.53 L609.51 425.09 L609.58 424.66 L609.59 424.23 L609.54 423.80 L609.42 423.37 L609.25 422.94 L609.03 422.51 L608.75 422.08 L608.42 421.65 L608.05 421.22 L607.65 420.79 L607.21 420.36 L606.74 419.92 L606.25 419.49 L605.74 419.06 L605.23 418.63 L604.71 418.20 L604.20 417.77 L603.70 417.34 L603.21 416.91 L602.74 416.48 L602.29 416.05 L601.88 415.62 L601.49 415.19 L601.14 414.75 L600.82 414.32 L600.55 413.89 L600.31 413.46 L600.12 413.03 L599.96 412.60 L599.85 412.17 L599.78 411.74 L599.74 411.31 L599.75 410.88 L599.78 410.45 L599.86 410.02 L599.96 409.58 L600.09 409.15 L600.24 408.72 L600.41 408.29 L600.60 407.86 L600.81 407.43 L601.02 407.00 L601.24 406.57 L601.46 406.14 L601.68 405.71 L601.89 405.28 L602.09 404.84 L602.28 404.41 L602.45 403.98 L602.60 403.55 L602.72 403.12 L602.82 402.69 L602.90 402.26 L602.95 401.83 L602.97 401.40 L602.96 400.97 L602.91 400.54 L602.85 400.11 L602.75 399.67 L602.63 399.24 L602.48 398.81 L602.31 398.38 L602.12 397.95 L601.92 397.52 L601.70 397.09 L601.47 396.66 L601.23 396.23 L600.99 395.80 L600.76 395.37 L600.52 394.94 L600.29 394.50 L600.07 394.07 L599.86 393.64 L599.67 393.21 L599.49 392.78 L599.34 392.35 L599.20 391.92 L599.09 391.49 L599.00 391.06 L598.94 390.63 L598.90 390.20 L598.89 389.77 L598.90 389.33 L598.94 388.90 L599.00 388.47 L599.08 388.04 L599.18 387.61 L599.30 387.18 L599.43 386.75 L599.58 386.32 L599.75 385.89 L599.92 385.46 L600.09 385.03 L600.28 384.60 L600.46 384.16 L600.63 383.73 L600.81 383.30 L600.97 382.87 L601.13 382.44 L601.27 382.01 L601.40 381.58 L601.51 381.15 L601.60 380.72 L601.68 380.29 L601.73 379.86 L601.77 379.43 L601.80 378.99 L601.80 378.56 L601.79 378.13 L601.78 377.70 L601.75 377.27 L601.72 376.84 L601.69 376.41 L601.67 375.98 L601.67 375.55 L601.68 375.12 L601.72 374.69 L601.80 374.25 L601.93 373.82 L602.11 373.39 L602.35 372.96 L602.67 372.53 L603.08 372.10 L603.59 371.67 L604.20 371.24 L604.94 370.81 L605.81 370.38 L606.82 369.95 L607.98 369.52 L609.30 369.08 L610.80 368.65 L612.47 368.22 L614.33 367.79 L616.37 367.36 L618.60 366.93 L621.02 366.50 L623.62 366.07 L626.39 365.64 L629.33 365.21 L632.43 364.78 L635.66 364.35 L639.01 363.91 L642.45 363.48 L645.95 363.05 L649.50 362.62 L653.05 362.19 L656.58 361.76 L660.04 361.33 L663.40 360.90 L666.63 360.47 L669.68 360.04 L672.52 359.61 L675.11 359.18 L677.43 358.74 L679.44 358.31 L681.12 357.88 L682.44 357.45 L683.38 357.02 L683.94 356.59 L684.10 356.16 L683.86 355.73 L683.22 355.30 L682.20 354.87 L680.81 354.44 L679.06 354.01 L676.98 353.57 L674.60 353.14 L671.93 352.71 L669.03 352.28 L665.92 351.85 L662.64 351.42 L659.23 350.99 L655.71 350.56 L652.14 350.13 L648.55 349.70 L644.96 349.27 L641.41 348.84 L637.92 348.40 L634.53 347.97 L631.25 347.54 L628.11 347.11 L625.11 346.68 L622.28 346.25 L619.61 345.82 L617.12 345.39 L614.81 344.96 L612.68 344.53 L610.72 344.10 L608.94 343.67 L607.32 343.23 L605.86 342.80 L604.55 342.37 L603.38 341.94 L602.35 341.51 L601.44 341.08 L600.64 340.65 L599.94 340.22 L599.34 339.79 L598.82 339.36 L598.37 338.93 L597.98 338.49 L597.66 338.06 L597.38 337.63 L597.15 337.20 L595.05 337.20 L594.82 337.63 L594.54 338.06 L594.22 338.49 L593.83 338.93 L593.38 339.36 L592.86 339.79 L592.26 340.22 L591.56 340.65 L590.76 341.08 L589.85 341.51 L588.82 341.94 L587.65 342.37 L586.34 342.80 L584.88 343.23 L583.26 343.67 L581.48 344.10 L579.52 344.53 L577.39 344.96 L575.08 345.39 L572.59 345.82 L569.92 346.25 L567.09 346.68 L564.09 347.11 L560.95 347.54 L557.67 347.97 L554.28 348.40 L550.79 348.84 L547.24 349.27 L543.65 349.70 L540.06 350.13 L536.49 350.56 L532.97 350.99 L529.56 351.42 L526.28 351.85 L523.17 352.28 L520.27 352.71 L517.60 353.14 L515.22 353.57 L513.14 354.01 L511.39 354.44 L510.00 354.87 L508.98 355.30 L508.34 355.73 L508.10 356.16 L508.26 356.59 L508.82 357.02 L509.76 357.45 L511.08 357.88 L512.76 358.31 L514.77 358.74 L517.09 359.18 L519.68 359.61 L522.52 360.04 L525.57 360.47 L528.80 360.90 L532.16 361.33 L535.62 361.76 L539.15 362.19 L542.70 362.62 L546.25 363.05 L549.75 363.48 L553.19 363.91 L556.54 364.35 L559.77 364.78 L562.87 365.21 L565.81 365.64 L568.58 366.07 L571.18 366.50 L573.60 366.93 L575.83 367.36 L577.87 367.79 L579.73 368.22 L581.40 368.65 L582.90 369.08 L584.22 369.52 L585.38 369.95 L586.39 370.38 L587.26 370.81 L588.00 371.24 L588.61 371.67 L589.12 372.10 L589.53 372.53 L589.85 372.96 L590.09 373.39 L590.27 373.82 L590.40 374.25 L590.48 374.69 L590.52 375.12 L590.53 375.55 L590.53 375.98 L590.51 376.41 L590.48 376.84 L590.45 377.27 L590.42 377.70 L590.41 378.13 L590.40 378.56 L590.40 378.99 L590.43 379.43 L590.47 379.86 L590.52 380.29 L590.60 380.72 L590.69 381.15 L590.80 381.58 L590.93 382.01 L591.07 382.44 L591.23 382.87 L591.39 383.30 L591.57 383.73 L591.74 384.16 L591.92 384.60 L592.11 385.03 L592.28 385.46 L592.45 385.89 L592.62 386.32 L592.77 386.75 L592.90 387.18 L593.02 387.61 L593.12 388.04 L593.20 388.47 L593.26 388.90 L593.30 389.33 L593.31 389.77 L593.30 390.20 L593.26 390.63 L593.20 391.06 L593.11 391.49 L593.00 391.92 L592.86 392.35 L592.71 392.78 L592.53 393.21 L592.34 393.64 L592.13 394.07 L591.91 394.50 L591.68 394.94 L591.44 395.37 L591.21 395.80 L590.97 396.23 L590.73 396.66 L590.50 397.09 L590.28 397.52 L590.08 397.95 L589.89 398.38 L589.72 398.81 L589.57 399.24 L589.45 399.67 L589.35 400.11 L589.29 400.54 L589.24 400.97 L589.23 401.40 L589.25 401.83 L589.30 402.26 L589.38 402.69 L589.48 403.12 L589.60 403.55 L589.75 403.98 L589.92 404.41 L590.11 404.84 L590.31 405.28 L590.52 405.71 L590.74 406.14 L590.96 406.57 L591.18 407.00 L591.39 407.43 L591.60 407.86 L591.79 408.29 L591.96 408.72 L592.11 409.15 L592.24 409.58 L592.34 410.02 L592.42 410.45 L592.45 410.88 L592.46 411.31 L592.42 411.74 L592.35 412.17 L592.24 412.60 L592.08 413.03 L591.89 413.46 L591.65 413.89 L591.38 414.32 L591.06 414.75 L590.71 415.19 L590.32 415.62 L589.91 416.05 L589.46 416.48 L588.99 416.91 L588.50 417.34 L588.00 417.77 L587.49 418.20 L586.97 418.63 L586.46 419.06 L585.95 419.49 L585.46 419.92 L584.99 420.36 L584.55 420.79 L584.15 421.22 L583.78 421.65 L583.45 422.08 L583.17 422.51 L582.95 422.94 L582.78 423.37 L582.66 423.80 L582.61 424.23 L582.62 424.66 L582.69 425.09 L582.81 425.53 L583.00 425.96 L583.24 426.39 L583.53 426.82 L583.86 427.25 L584.24 427.68 L584.65 428.11 L585.10 428.54 L585.57 428.97 L586.06 429.40 L586.57 429.83 L587.08 430.26 L587.59 430.70 L588.09 431.13 L588.58 431.56 L589.06 431.99 L589.52 432.42 L589.95 432.85 L590.35 433.28 L590.71 433.71 L591.05 434.14 L591.34 434.57 L591.60 435.00 L591.81 435.43 L591.98 435.87 L592.12 436.30 L592.21 436.73 L592.26 437.16 L592.28 437.59 L592.26 438.02 L592.21 438.45 L592.12 438.88 L592.01 439.31 L591.88 439.74 L591.72 440.17 L591.55 440.60 L591.36 441.04 L591.17 441.47 L590.97 441.90 L590.77 442.33 L590.57 442.76 L590.38 443.19 L590.20 443.62 L590.03 444.05 L589.88 444.48 L589.75 444.91 L589.64 445.34 L589.56 445.78 L589.50 446.21 L589.48 446.64 L589.48 447.07 L589.51 447.50 L589.56 447.93 L589.65 448.36 L589.76 448.79 L589.90 449.22 L590.07 449.65 L590.25 450.08 L590.46 450.51 L590.68 450.95 L590.92 451.38 L591.17 451.81 L591.43 452.24 L591.70 452.67 L591.97 453.10 L592.24 453.53 L592.51 453.96 L592.78 454.39 L593.04 454.82 L593.29 455.25 L593.53 455.68 L593.77 456.12 L593.99 456.55 L594.20 456.98 L594.40 457.41 L594.58 457.84 L594.75 458.27 L594.90 458.70 L595.05 459.13 L595.18 459.56 L595.30 459.99 L595.40 460.42 L595.50 460.85 L595.58 461.29 L595.66 461.72 L595.72 462.15 L595.78 462.58 L595.83 463.01 L595.87 463.44 L595.91 463.87 L595.94 464.30 L595.97 464.73 L595.99 465.16 L596.01 465.59 L596.03 466.02 Z" fill="#F0E442" stroke="#111" stroke-width="1.25" stroke-linejoin="round"/>
<line x1="133.30" y1="427.02" x2="133.30" y2="439.78" stroke="#111" stroke-width="1.0"/>
<rect x="115.80" y="439.78" width="35.00" height="12.76" fill="#fff" stroke="#111" stroke-width="1.25"/>
<line x1="115.80" y1="452.54" x2="150.80" y2="452.54" stroke="#111" stroke-width="2.2"/>
<circle cx="133.30" cy="414.26" r="2.2" fill="#000"/>
<circle cx="133.30" cy="401.50" r="2.2" fill="#000"/>
<circle cx="133.30" cy="388.74" r="2.2" fill="#000"/>
<circle cx="133.30" cy="375.98" r="2.2" fill="#000"/>
<circle cx="133.30" cy="363.22" r="2.2" fill="#000"/>
<line x1="277.60" y1="401.50" x2="277.60" y2="451.26" stroke="#111" stroke-width="1.0"/>
<rect x="260.10" y="350.46" width="35.00" height="51.04" fill="#fff" stroke="#111" stroke-width="1.25"/>
<line x1="260.10" y1="363.22" x2="295.10" y2="363.22" stroke="#111" stroke-width="2.2"/>
<line x1="439.20" y1="356.06" x2="439.20" y2="390.14" stroke="#111" stroke-width="1.0"/>
<rect x="421.70" y="390.14" width="35.00" height="56.80" fill="#fff" stroke="#111" stroke-width="1.25"/>
<line x1="421.70" y1="446.94" x2="456.70" y2="446.94" stroke="#111" stroke-width="2.2"/>
<line x1="596.10" y1="373.10" x2="596.10" y2="378.44" stroke="#111" stroke-width="1.0"/>
<rect x="578.60" y="356.06" width="35.00" height="17.04" fill="#fff" stroke="#111" stroke-width="1.25"/>
<line x1="578.60" y1="356.06" x2="613.60" y2="356.06" stroke="#111" stroke-width="2.2"/>
<circle cx="596.10" cy="401.50" r="2.2" fill="#000"/>
<circle cx="596.10" cy="424.22" r="2.2" fill="#000"/>
<circle cx="596.10" cy="446.94" r="2.2" fill="#000"/>
<line x1="133.00" y1="346.00" x2="278.10" y2="346.00" stroke="rgba(0,0,0,0.4)" stroke-width="1.8"/>
<line x1="133.50" y1="345.90" x2="133.50" y2="348.90" stroke="#555" stroke-width="1.0"/>
<line x1="277.60" y1="345.90" x2="277.60" y2="348.90" stroke="#555" stroke-width="1.0"/>
<text x="159.56" y="337.70" font-family="Liberation Sans" font-size="10.50" fill="#222" stroke="#222" stroke-width="0.25" font-style="italic" xml:space="preserve">p</text>
<text x="165.12" y="337.70" font-family="Liberation Sans" font-size="10.50" fill="#222" stroke="#222" stroke-width="0.25" textLength="82.54" lengthAdjust="spacingAndGlyphs" xml:space="preserve">-value  &lt;&lt; 0.0001</text>
<line x1="439.20" y1="352.00" x2="596.00" y2="352.00" stroke="rgba(0,0,0,0.4)" stroke-width="1.8"/>
<line x1="439.70" y1="352.00" x2="439.70" y2="355.00" stroke="#555" stroke-width="1.0"/>
<line x1="595.50" y1="352.00" x2="595.50" y2="355.00" stroke="#555" stroke-width="1.0"/>
<text x="476.76" y="338.90" font-family="Liberation Sans" font-size="10.50" fill="#222" stroke="#222" stroke-width="0.25" font-style="italic" xml:space="preserve">p</text>
<text x="482.32" y="338.90" font-family="Liberation Sans" font-size="10.50" fill="#222" stroke="#222" stroke-width="0.25" textLength="70.87" lengthAdjust="spacingAndGlyphs" xml:space="preserve">-value  &lt;&lt; 0.01</text>
<text x="4.15" y="563.90" font-family="Liberation Serif" font-size="19.50" fill="#000" stroke="#000" stroke-width="0.25" font-weight="bold" textLength="9.45" lengthAdjust="spacingAndGlyphs" xml:space="preserve">c</text>
<rect x="52.1" y="584.4" width="257.2" height="256.80000000000007" fill="none" stroke="#626262" stroke-width="1.5"/>
<line x1="52.10" y1="841.20" x2="309.30" y2="584.40" stroke="#a8a8a8" stroke-width="1.0"/>
<line x1="61.60" y1="841.20" x2="61.60" y2="848.00" stroke="#626262" stroke-width="1.1"/>
<text x="58.52" y="865.80" font-family="Liberation Sans" font-size="11.00" fill="#222" stroke="#222" stroke-width="0.25" xml:space="preserve">0</text>
<line x1="45.10" y1="831.40" x2="52.10" y2="831.40" stroke="#626262" stroke-width="1.1"/>
<text transform="translate(35.60,0) rotate(-90)" x="-834.48" y="0" font-family="Liberation Sans" font-size="11" fill="#222" stroke="#222" stroke-width="0.25">0</text>
<line x1="109.24" y1="841.20" x2="109.24" y2="848.00" stroke="#626262" stroke-width="1.1"/>
<text x="101.65" y="865.80" font-family="Liberation Sans" font-size="11.00" fill="#222" stroke="#222" stroke-width="0.25" xml:space="preserve">0.2</text>
<line x1="45.10" y1="783.80" x2="52.10" y2="783.80" stroke="#626262" stroke-width="1.1"/>
<text transform="translate(35.60,0) rotate(-90)" x="-791.39" y="0" font-family="Liberation Sans" font-size="11" fill="#222" stroke="#222" stroke-width="0.25">0.2</text>
<line x1="156.88" y1="841.20" x2="156.88" y2="848.00" stroke="#626262" stroke-width="1.1"/>
<text x="149.18" y="865.80" font-family="Liberation Sans" font-size="11.00" fill="#222" stroke="#222" stroke-width="0.25" xml:space="preserve">0.4</text>
<line x1="45.10" y1="736.20" x2="52.10" y2="736.20" stroke="#626262" stroke-width="1.1"/>
<text transform="translate(35.60,0) rotate(-90)" x="-743.90" y="0" font-family="Liberation Sans" font-size="11" fill="#222" stroke="#222" stroke-width="0.25">0.4</text>
<line x1="204.52" y1="841.20" x2="204.52" y2="848.00" stroke="#626262" stroke-width="1.1"/>
<text x="196.88" y="865.80" font-family="Liberation Sans" font-size="11.00" fill="#222" stroke="#222" stroke-width="0.25" xml:space="preserve">0.6</text>
<line x1="45.10" y1="688.60" x2="52.10" y2="688.60" stroke="#626262" stroke-width="1.1"/>
<text transform="translate(35.60,0) rotate(-90)" x="-696.24" y="0" font-family="Liberation Sans" font-size="11" fill="#222" stroke="#222" stroke-width="0.25">0.6</text>
<line x1="252.16" y1="841.20" x2="252.16" y2="848.00" stroke="#626262" stroke-width="1.1"/>
<text x="244.52" y="865.80" font-family="Liberation Sans" font-size="11.00" fill="#222" stroke="#222" stroke-width="0.25" xml:space="preserve">0.8</text>
<line x1="45.10" y1="641.00" x2="52.10" y2="641.00" stroke="#626262" stroke-width="1.1"/>
<text transform="translate(35.60,0) rotate(-90)" x="-648.64" y="0" font-family="Liberation Sans" font-size="11" fill="#222" stroke="#222" stroke-width="0.25">0.8</text>
<line x1="299.80" y1="841.20" x2="299.80" y2="848.00" stroke="#626262" stroke-width="1.1"/>
<text x="296.58" y="865.80" font-family="Liberation Sans" font-size="11.00" fill="#222" stroke="#222" stroke-width="0.25" xml:space="preserve">1</text>
<line x1="45.10" y1="593.40" x2="52.10" y2="593.40" stroke="#626262" stroke-width="1.1"/>
<text transform="translate(35.60,0) rotate(-90)" x="-596.62" y="0" font-family="Liberation Sans" font-size="11" fill="#222" stroke="#222" stroke-width="0.25">1</text>
<path d="M61.60 831.40 L61.60 736.20 L65.89 693.36 L70.89 674.32 L75.42 660.04 L85.42 650.52 L109.24 641.00 L114.00 631.48 L137.82 612.44 L299.80 593.40" fill="none" stroke="#56B4E9" stroke-width="1.7" stroke-linejoin="round"/>
<text x="116.20" y="720.40" font-family="Liberation Sans" font-size="11.50" fill="#111" stroke="#111" stroke-width="0.25" textLength="160.19" lengthAdjust="spacingAndGlyphs" xml:space="preserve">Accuracy: 83.0%; AUC: 0.901</text>
<text transform="translate(12.20,0) rotate(-90)" x="-738.05" y="0" font-family="Liberation Sans" font-size="12" fill="#111" stroke="#111" stroke-width="0.25" textLength="55.47" lengthAdjust="spacingAndGlyphs">Sensitivity</text>
<text x="143.79" y="882.80" font-family="Liberation Sans" font-size="11.20" fill="#111" stroke="#111" stroke-width="0.25" textLength="65.72" lengthAdjust="spacingAndGlyphs" xml:space="preserve">1-Specificity</text>
<text x="157.95" y="902.60" font-family="Liberation Sans" font-size="11.20" fill="#111" stroke="#111" stroke-width="0.25" textLength="43.85" lengthAdjust="spacingAndGlyphs" xml:space="preserve">Training</text>
<circle cx="85.1" cy="650.6" r="2.1" fill="#000"/>
<text x="90.65" y="661.00" font-family="Liberation Sans" font-size="10.80" fill="#111" stroke="#111" stroke-width="0.25" textLength="102.26" lengthAdjust="spacingAndGlyphs" xml:space="preserve">0.450 (0.900, 0.760)</text>
<rect x="425.2" y="584.3" width="255.09999999999997" height="254.80000000000007" fill="none" stroke="#626262" stroke-width="1.5"/>
<line x1="425.20" y1="839.10" x2="680.30" y2="584.30" stroke="#a8a8a8" stroke-width="1.0"/>
<line x1="434.60" y1="839.10" x2="434.60" y2="845.90" stroke="#626262" stroke-width="1.1"/>
<text x="431.52" y="863.40" font-family="Liberation Sans" font-size="11.00" fill="#222" stroke="#222" stroke-width="0.25" xml:space="preserve">0</text>
<line x1="418.20" y1="829.60" x2="425.20" y2="829.60" stroke="#626262" stroke-width="1.1"/>
<text transform="translate(409.70,0) rotate(-90)" x="-832.68" y="0" font-family="Liberation Sans" font-size="11" fill="#222" stroke="#222" stroke-width="0.25">0</text>
<line x1="481.84" y1="839.10" x2="481.84" y2="845.90" stroke="#626262" stroke-width="1.1"/>
<text x="474.25" y="863.40" font-family="Liberation Sans" font-size="11.00" fill="#222" stroke="#222" stroke-width="0.25" xml:space="preserve">0.2</text>
<line x1="418.20" y1="782.38" x2="425.20" y2="782.38" stroke="#626262" stroke-width="1.1"/>
<text transform="translate(409.70,0) rotate(-90)" x="-789.97" y="0" font-family="Liberation Sans" font-size="11" fill="#222" stroke="#222" stroke-width="0.25">0.2</text>
<line x1="529.08" y1="839.10" x2="529.08" y2="845.90" stroke="#626262" stroke-width="1.1"/>
<text x="521.38" y="863.40" font-family="Liberation Sans" font-size="11.00" fill="#222" stroke="#222" stroke-width="0.25" xml:space="preserve">0.4</text>
<line x1="418.20" y1="735.16" x2="425.20" y2="735.16" stroke="#626262" stroke-width="1.1"/>
<text transform="translate(409.70,0) rotate(-90)" x="-742.86" y="0" font-family="Liberation Sans" font-size="11" fill="#222" stroke="#222" stroke-width="0.25">0.4</text>
<line x1="576.32" y1="839.10" x2="576.32" y2="845.90" stroke="#626262" stroke-width="1.1"/>
<text x="568.67" y="863.40" font-family="Liberation Sans" font-size="11.00" fill="#222" stroke="#222" stroke-width="0.25" xml:space="preserve">0.6</text>
<line x1="418.20" y1="687.94" x2="425.20" y2="687.94" stroke="#626262" stroke-width="1.1"/>
<text transform="translate(409.70,0) rotate(-90)" x="-695.59" y="0" font-family="Liberation Sans" font-size="11" fill="#222" stroke="#222" stroke-width="0.25">0.6</text>
<line x1="623.56" y1="839.10" x2="623.56" y2="845.90" stroke="#626262" stroke-width="1.1"/>
<text x="615.91" y="863.40" font-family="Liberation Sans" font-size="11.00" fill="#222" stroke="#222" stroke-width="0.25" xml:space="preserve">0.8</text>
<line x1="418.20" y1="640.72" x2="425.20" y2="640.72" stroke="#626262" stroke-width="1.1"/>
<text transform="translate(409.70,0) rotate(-90)" x="-648.37" y="0" font-family="Liberation Sans" font-size="11" fill="#222" stroke="#222" stroke-width="0.25">0.8</text>
<line x1="670.80" y1="839.10" x2="670.80" y2="845.90" stroke="#626262" stroke-width="1.1"/>
<text x="667.58" y="863.40" font-family="Liberation Sans" font-size="11.00" fill="#222" stroke="#222" stroke-width="0.25" xml:space="preserve">1</text>
<line x1="418.20" y1="593.50" x2="425.20" y2="593.50" stroke="#626262" stroke-width="1.1"/>
<text transform="translate(409.70,0) rotate(-90)" x="-596.72" y="0" font-family="Liberation Sans" font-size="11" fill="#222" stroke="#222" stroke-width="0.25">1</text>
<path d="M434.60 829.60 L474.05 659.14 L474.05 645.91 L497.67 632.93 L497.67 619.71 L505.46 593.50 L670.80 593.50" fill="none" stroke="#ECDF3C" stroke-width="1.7" stroke-linejoin="round"/>
<text x="478.70" y="721.00" font-family="Liberation Sans" font-size="11.50" fill="#111" stroke="#111" stroke-width="0.25" textLength="160.15" lengthAdjust="spacingAndGlyphs" xml:space="preserve">Accuracy: 79.2%; AUC: 0.872</text>
<text transform="translate(390.90,0) rotate(-90)" x="-737.45" y="0" font-family="Liberation Sans" font-size="12" fill="#111" stroke="#111" stroke-width="0.25" textLength="54.87" lengthAdjust="spacingAndGlyphs">Sensitivity</text>
<text x="520.29" y="883.70" font-family="Liberation Sans" font-size="11.20" fill="#111" stroke="#111" stroke-width="0.25" textLength="65.62" lengthAdjust="spacingAndGlyphs" xml:space="preserve">1-Specificity</text>
<text x="530.34" y="902.30" font-family="Liberation Sans" font-size="11.20" fill="#111" stroke="#111" stroke-width="0.25" textLength="52.79" lengthAdjust="spacingAndGlyphs" xml:space="preserve">Validation</text>
</svg>
</body></html>
